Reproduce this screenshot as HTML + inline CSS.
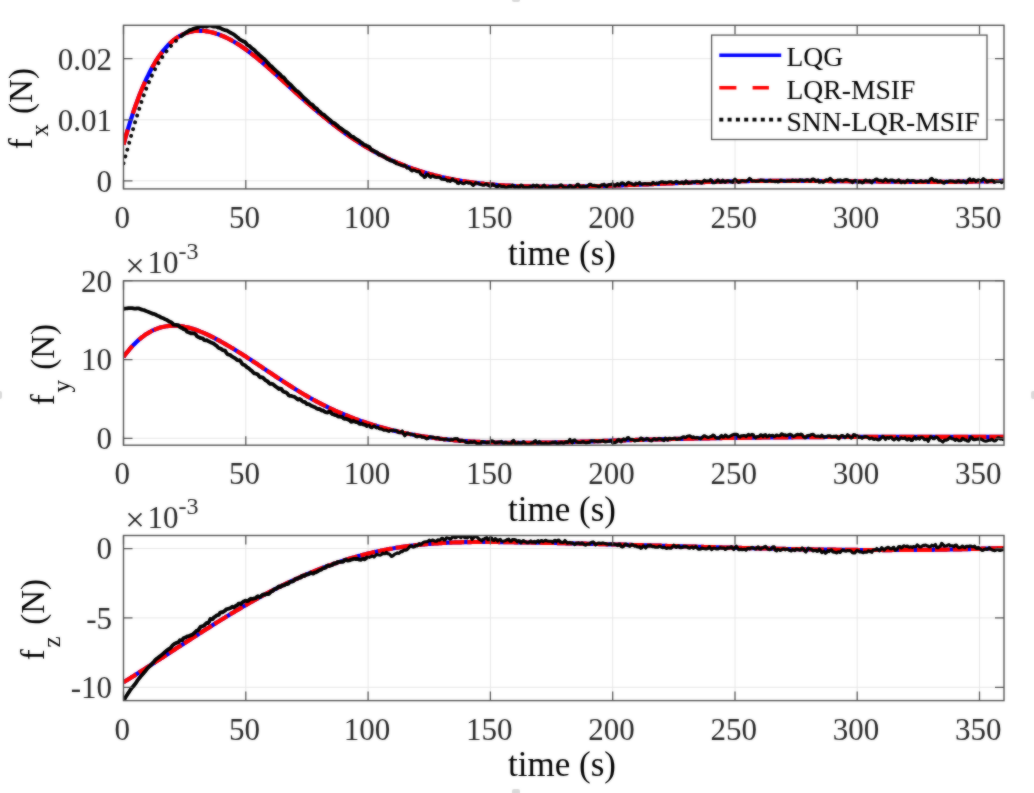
<!DOCTYPE html>
<html><head><meta charset="utf-8"><style>
html,body{margin:0;padding:0;background:#fff;width:1034px;height:793px;overflow:hidden}
svg{display:block}
</style></head><body>
<svg width="1034" height="793" viewBox="0 0 1034 793">
<defs><filter id="soft" x="0" y="0" width="100%" height="100%" color-interpolation-filters="sRGB"><feGaussianBlur in="SourceGraphic" stdDeviation="1" result="b"/><feComposite in="SourceGraphic" in2="b" operator="arithmetic" k1="0" k2="0.5" k3="0.5" k4="0"/></filter></defs>
<g filter="url(#soft)">
<rect width="1034" height="793" fill="#fff"/>
<clipPath id="c0"><rect x="123.5" y="25.3" width="880.5" height="163.6"/></clipPath>
<path d="M245.8,25.3V188.9M368.1,25.3V188.9M490.4,25.3V188.9M612.7,25.3V188.9M735.0,25.3V188.9M857.2,25.3V188.9M979.5,25.3V188.9M123.5,180.8H1004.0M123.5,119.8H1004.0M123.5,58.7H1004.0" stroke="#e6e6e6" stroke-width="1" fill="none"/>
<g clip-path="url(#c0)" fill="none" stroke-linejoin="round">
<path d="M123.5,144.7 L124.7,140.2 L125.9,135.9 L127.2,131.7 L128.4,127.6 L129.6,123.6 L130.8,119.7 L132.1,115.9 L133.3,112.2 L134.5,108.6 L135.7,105.2 L137.0,101.8 L138.2,98.5 L139.4,95.3 L140.6,92.2 L141.8,89.3 L143.1,86.4 L144.3,83.6 L145.5,80.8 L146.7,78.2 L148.0,75.7 L149.2,73.2 L150.4,70.8 L151.6,68.6 L152.8,66.4 L154.1,64.2 L155.3,62.2 L156.5,60.2 L157.7,58.3 L159.0,56.5 L160.2,54.8 L161.4,53.1 L162.6,51.5 L163.9,50.0 L165.1,48.5 L166.3,47.1 L167.5,45.8 L168.7,44.5 L170.0,43.3 L171.2,42.2 L172.4,41.1 L173.6,40.1 L174.9,39.2 L176.1,38.3 L177.3,37.4 L178.5,36.7 L179.8,35.9 L181.0,35.3 L182.2,34.6 L183.4,34.1 L184.6,33.6 L185.9,33.1 L187.1,32.7 L188.3,32.3 L189.5,32.0 L190.8,31.7 L192.0,31.4 L193.2,31.2 L194.4,31.0 L195.7,30.9 L196.9,30.8 L198.1,30.8 L199.3,30.8 L200.5,30.8 L201.8,30.8 L203.0,30.9 L204.2,31.0 L205.4,31.1 L206.7,31.3 L207.9,31.5 L209.1,31.7 L210.3,32.0 L211.6,32.3 L212.8,32.6 L214.0,32.9 L215.2,33.3 L216.4,33.7 L217.7,34.1 L218.9,34.5 L220.1,35.0 L221.3,35.5 L222.6,36.0 L223.8,36.5 L225.0,37.0 L226.2,37.6 L227.4,38.2 L228.7,38.8 L229.9,39.5 L231.1,40.1 L232.3,40.8 L233.6,41.5 L234.8,42.2 L236.0,43.0 L237.2,43.7 L238.5,44.5 L239.7,45.3 L240.9,46.1 L242.1,46.9 L243.3,47.8 L244.6,48.6 L245.8,49.5 L247.0,50.4 L248.2,51.3 L249.5,52.2 L250.7,53.1 L251.9,54.1 L253.1,55.0 L254.4,56.0 L255.6,57.0 L256.8,58.0 L258.0,59.0 L259.2,60.0 L260.5,61.0 L261.7,62.0 L262.9,63.1 L264.1,64.1 L265.4,65.2 L266.6,66.2 L267.8,67.3 L269.0,68.4 L270.2,69.4 L271.5,70.5 L272.7,71.6 L273.9,72.7 L275.1,73.8 L276.4,74.9 L277.6,76.0 L278.8,77.1 L280.0,78.2 L281.3,79.4 L282.5,80.5 L283.7,81.6 L284.9,82.7 L286.1,83.8 L287.4,85.0 L288.6,86.1 L289.8,87.2 L291.0,88.3 L292.3,89.4 L293.5,90.5 L294.7,91.7 L295.9,92.8 L297.2,93.9 L298.4,95.0 L299.6,96.1 L300.8,97.2 L302.0,98.2 L303.3,99.3 L304.5,100.4 L305.7,101.5 L306.9,102.6 L308.2,103.6 L309.4,104.7 L310.6,105.7 L311.8,106.8 L313.1,107.8 L314.3,108.9 L315.5,109.9 L316.7,110.9 L317.9,112.0 L319.2,113.0 L320.4,114.0 L321.6,115.0 L322.8,116.0 L324.1,117.0 L325.3,118.0 L326.5,119.0 L327.7,120.0 L328.9,121.0 L330.2,121.9 L331.4,122.9 L332.6,123.8 L333.8,124.8 L335.1,125.7 L336.3,126.7 L337.5,127.6 L338.7,128.5 L340.0,129.4 L341.2,130.3 L342.4,131.2 L343.6,132.1 L344.8,133.0 L346.1,133.9 L347.3,134.7 L348.5,135.6 L349.7,136.4 L351.0,137.3 L352.2,138.1 L353.4,138.9 L354.6,139.7 L355.9,140.5 L357.1,141.3 L358.3,142.1 L359.5,142.9 L360.7,143.7 L362.0,144.4 L363.2,145.2 L364.4,145.9 L365.6,146.7 L366.9,147.4 L368.1,148.1 L369.3,148.8 L370.5,149.5 L371.8,150.2 L373.0,150.9 L374.2,151.6 L375.4,152.2 L376.6,152.9 L377.9,153.5 L379.1,154.2 L380.3,154.8 L381.5,155.4 L382.8,156.0 L384.0,156.6 L385.2,157.2 L386.4,157.8 L387.6,158.4 L388.9,159.0 L390.1,159.6 L391.3,160.1 L392.5,160.7 L393.8,161.2 L395.0,161.7 L396.2,162.3 L397.4,162.8 L398.7,163.3 L399.9,163.8 L401.1,164.3 L402.3,164.8 L403.5,165.3 L404.8,165.8 L406.0,166.2 L407.2,166.7 L408.4,167.1 L409.7,167.6 L410.9,168.0 L412.1,168.5 L413.3,168.9 L414.6,169.3 L415.8,169.7 L417.0,170.1 L418.2,170.5 L419.4,170.9 L420.7,171.3 L421.9,171.7 L423.1,172.1 L424.3,172.4 L425.6,172.8 L426.8,173.2 L428.0,173.5 L429.2,173.9 L430.5,174.2 L431.7,174.5 L432.9,174.8 L434.1,175.2 L435.3,175.5 L436.6,175.8 L437.8,176.1 L439.0,176.4 L440.2,176.7 L441.5,177.0 L442.7,177.2 L443.9,177.5 L445.1,177.8 L446.4,178.1 L447.6,178.3 L448.8,178.6 L450.0,178.8 L451.2,179.1 L452.5,179.3 L453.7,179.5 L454.9,179.7 L456.1,180.0 L457.4,180.2 L458.6,180.4 L459.8,180.6 L461.0,180.8 L462.2,181.0 L463.5,181.2 L464.7,181.4 L465.9,181.6 L467.1,181.8 L468.4,181.9 L469.6,182.1 L470.8,182.3 L472.0,182.4 L473.3,182.6 L474.5,182.8 L475.7,182.9 L476.9,183.1 L478.1,183.2 L479.4,183.3 L480.6,183.5 L481.8,183.6 L483.0,183.7 L484.3,183.9 L485.5,184.0 L486.7,184.1 L487.9,184.2 L489.2,184.3 L490.4,184.4 L491.6,184.5 L492.8,184.6 L494.0,184.7 L495.3,184.8 L496.5,184.9 L497.7,185.0 L498.9,185.1 L500.2,185.2 L501.4,185.3 L502.6,185.3 L503.8,185.4 L505.1,185.5 L506.3,185.5 L507.5,185.6 L508.7,185.7 L509.9,185.7 L511.2,185.8 L512.4,185.9 L513.6,185.9 L514.8,186.0 L516.1,186.0 L517.3,186.1 L518.5,186.1 L519.7,186.1 L520.9,186.2 L522.2,186.2 L523.4,186.3 L524.6,186.3 L525.8,186.3 L527.1,186.4 L528.3,186.4 L529.5,186.4 L530.7,186.4 L532.0,186.5 L533.2,186.5 L534.4,186.5 L535.6,186.5 L536.8,186.5 L538.1,186.6 L539.3,186.6 L540.5,186.6 L541.7,186.6 L543.0,186.6 L544.2,186.6 L545.4,186.6 L546.6,186.7 L547.9,186.7 L549.1,186.7 L550.3,186.7 L551.5,186.7 L552.7,186.7 L554.0,186.7 L555.2,186.7 L556.4,186.7 L557.6,186.7 L558.9,186.7 L560.1,186.7 L561.3,186.7 L562.5,186.7 L563.8,186.7 L565.0,186.6 L566.2,186.6 L567.4,186.6 L568.6,186.6 L569.9,186.6 L571.1,186.6 L572.3,186.6 L573.5,186.6 L574.8,186.5 L576.0,186.5 L577.2,186.5 L578.4,186.5 L579.6,186.5 L580.9,186.4 L582.1,186.4 L583.3,186.4 L584.5,186.4 L585.8,186.3 L587.0,186.3 L588.2,186.3 L589.4,186.3 L590.7,186.2 L591.9,186.2 L593.1,186.2 L594.3,186.1 L595.5,186.1 L596.8,186.1 L598.0,186.0 L599.2,186.0 L600.4,186.0 L601.7,185.9 L602.9,185.9 L604.1,185.9 L605.3,185.8 L606.6,185.8 L607.8,185.8 L609.0,185.7 L610.2,185.7 L611.4,185.6 L612.7,185.6 L613.9,185.6 L615.1,185.5 L616.3,185.5 L617.6,185.4 L618.8,185.4 L620.0,185.4 L621.2,185.3 L622.5,185.3 L623.7,185.2 L624.9,185.2 L626.1,185.1 L627.3,185.1 L628.6,185.0 L629.8,185.0 L631.0,185.0 L632.2,184.9 L633.5,184.9 L634.7,184.8 L635.9,184.8 L637.1,184.7 L638.3,184.7 L639.6,184.6 L640.8,184.6 L642.0,184.5 L643.2,184.5 L644.5,184.4 L645.7,184.4 L646.9,184.3 L648.1,184.3 L649.4,184.2 L650.6,184.2 L651.8,184.1 L653.0,184.1 L654.2,184.0 L655.5,184.0 L656.7,183.9 L657.9,183.9 L659.1,183.8 L660.4,183.8 L661.6,183.7 L662.8,183.7 L664.0,183.6 L665.3,183.6 L666.5,183.5 L667.7,183.5 L668.9,183.4 L670.1,183.4 L671.4,183.3 L672.6,183.3 L673.8,183.2 L675.0,183.2 L676.3,183.1 L677.5,183.1 L678.7,183.0 L679.9,183.0 L681.1,182.9 L682.4,182.9 L683.6,182.8 L684.8,182.8 L686.0,182.7 L687.3,182.7 L688.5,182.7 L689.7,182.6 L690.9,182.6 L692.2,182.5 L693.4,182.5 L694.6,182.4 L695.8,182.4 L697.0,182.3 L698.3,182.3 L699.5,182.3 L700.7,182.2 L701.9,182.2 L703.2,182.1 L704.4,182.1 L705.6,182.0 L706.8,182.0 L708.1,182.0 L709.3,181.9 L710.5,181.9 L711.7,181.9 L712.9,181.8 L714.2,181.8 L715.4,181.7 L716.6,181.7 L717.8,181.7 L719.1,181.6 L720.3,181.6 L721.5,181.6 L722.7,181.5 L724.0,181.5 L725.2,181.5 L726.4,181.5 L727.6,181.4 L728.8,181.4 L730.1,181.4 L731.3,181.3 L732.5,181.3 L733.7,181.3 L735.0,181.3 L736.2,181.2 L737.4,181.2 L738.6,181.2 L739.9,181.2 L741.1,181.2 L742.3,181.1 L743.5,181.1 L744.7,181.1 L746.0,181.1 L747.2,181.1 L748.4,181.1 L749.6,181.0 L750.9,181.0 L752.1,181.0 L753.3,181.0 L754.5,181.0 L755.7,181.0 L757.0,181.0 L758.2,180.9 L759.4,180.9 L760.6,180.9 L761.9,180.9 L763.1,180.9 L764.3,180.9 L765.5,180.9 L766.8,180.9 L768.0,180.9 L769.2,180.9 L770.4,180.9 L771.6,180.9 L772.9,180.8 L774.1,180.8 L775.3,180.8 L776.5,180.8 L777.8,180.8 L779.0,180.8 L780.2,180.8 L781.4,180.8 L782.7,180.8 L783.9,180.8 L785.1,180.8 L786.3,180.8 L787.5,180.8 L788.8,180.8 L790.0,180.8 L791.2,180.8 L792.4,180.8 L793.7,180.8 L794.9,180.8 L796.1,180.8 L797.3,180.8 L798.5,180.9 L799.8,180.9 L801.0,180.9 L802.2,180.9 L803.4,180.9 L804.7,180.9 L805.9,180.9 L807.1,180.9 L808.3,180.9 L809.6,180.9 L810.8,180.9 L812.0,180.9 L813.2,180.9 L814.4,180.9 L815.7,180.9 L816.9,181.0 L818.1,181.0 L819.3,181.0 L820.6,181.0 L821.8,181.0 L823.0,181.0 L824.2,181.0 L825.5,181.0 L826.7,181.0 L827.9,181.0 L829.1,181.1 L830.3,181.1 L831.6,181.1 L832.8,181.1 L834.0,181.1 L835.2,181.1 L836.5,181.1 L837.7,181.1 L838.9,181.1 L840.1,181.2 L841.4,181.2 L842.6,181.2 L843.8,181.2 L845.0,181.2 L846.2,181.2 L847.5,181.2 L848.7,181.2 L849.9,181.3 L851.1,181.3 L852.4,181.3 L853.6,181.3 L854.8,181.3 L856.0,181.3 L857.2,181.3 L858.5,181.3 L859.7,181.4 L860.9,181.4 L862.1,181.4 L863.4,181.4 L864.6,181.4 L865.8,181.4 L867.0,181.4 L868.3,181.5 L869.5,181.5 L870.7,181.5 L871.9,181.5 L873.1,181.5 L874.4,181.5 L875.6,181.5 L876.8,181.5 L878.0,181.5 L879.3,181.6 L880.5,181.6 L881.7,181.6 L882.9,181.6 L884.2,181.6 L885.4,181.6 L886.6,181.6 L887.8,181.6 L889.0,181.7 L890.3,181.7 L891.5,181.7 L892.7,181.7 L893.9,181.7 L895.2,181.7 L896.4,181.7 L897.6,181.7 L898.8,181.7 L900.1,181.7 L901.3,181.7 L902.5,181.8 L903.7,181.8 L904.9,181.8 L906.2,181.8 L907.4,181.8 L908.6,181.8 L909.8,181.8 L911.1,181.8 L912.3,181.8 L913.5,181.8 L914.7,181.8 L916.0,181.8 L917.2,181.8 L918.4,181.8 L919.6,181.8 L920.8,181.8 L922.1,181.8 L923.3,181.8 L924.5,181.8 L925.7,181.9 L927.0,181.9 L928.2,181.9 L929.4,181.9 L930.6,181.9 L931.8,181.9 L933.1,181.9 L934.3,181.9 L935.5,181.9 L936.7,181.8 L938.0,181.8 L939.2,181.8 L940.4,181.8 L941.6,181.8 L942.9,181.8 L944.1,181.8 L945.3,181.8 L946.5,181.8 L947.7,181.8 L949.0,181.8 L950.2,181.8 L951.4,181.8 L952.6,181.8 L953.9,181.8 L955.1,181.8 L956.3,181.7 L957.5,181.7 L958.8,181.7 L960.0,181.7 L961.2,181.7 L962.4,181.7 L963.6,181.7 L964.9,181.7 L966.1,181.6 L967.3,181.6 L968.5,181.6 L969.8,181.6 L971.0,181.6 L972.2,181.6 L973.4,181.5 L974.6,181.5 L975.9,181.5 L977.1,181.5 L978.3,181.4 L979.5,181.4 L980.8,181.4 L982.0,181.4 L983.2,181.4 L984.4,181.3 L985.7,181.3 L986.9,181.3 L988.1,181.2 L989.3,181.2 L990.5,181.2 L991.8,181.2 L993.0,181.1 L994.2,181.1 L995.4,181.1 L996.7,181.0 L997.9,181.0 L999.1,181.0 L1000.3,180.9 L1001.6,180.9 L1002.8,180.8 L1004.0,180.8" stroke="#0000ff" stroke-width="4.2"/>
<path d="M123.5,144.7 L124.7,140.2 L125.9,135.9 L127.2,131.7 L128.4,127.6 L129.6,123.6 L130.8,119.7 L132.1,115.9 L133.3,112.2 L134.5,108.6 L135.7,105.2 L137.0,101.8 L138.2,98.5 L139.4,95.3 L140.6,92.2 L141.8,89.3 L143.1,86.4 L144.3,83.6 L145.5,80.8 L146.7,78.2 L148.0,75.7 L149.2,73.2 L150.4,70.8 L151.6,68.6 L152.8,66.4 L154.1,64.2 L155.3,62.2 L156.5,60.2 L157.7,58.3 L159.0,56.5 L160.2,54.8 L161.4,53.1 L162.6,51.5 L163.9,50.0 L165.1,48.5 L166.3,47.1 L167.5,45.8 L168.7,44.5 L170.0,43.3 L171.2,42.2 L172.4,41.1 L173.6,40.1 L174.9,39.2 L176.1,38.3 L177.3,37.4 L178.5,36.7 L179.8,35.9 L181.0,35.3 L182.2,34.6 L183.4,34.1 L184.6,33.6" stroke="#ff0000" stroke-width="4.2" stroke-dasharray="15.69 16.67 34.42 15.42 18.95 10.69 11.81 2.41 5.32 0.00"/>
<path d="M184.6,33.6 L185.9,33.1 L187.1,32.7 L188.3,32.3 L189.5,32.0 L190.8,31.7 L192.0,31.4 L193.2,31.2 L194.4,31.0 L195.7,30.9 L196.9,30.8 L198.1,30.8 L199.3,30.8 L200.5,30.8 L201.8,30.8 L203.0,30.9 L204.2,31.0 L205.4,31.1 L206.7,31.3 L207.9,31.5 L209.1,31.7 L210.3,32.0 L211.6,32.3 L212.8,32.6 L214.0,32.9 L215.2,33.3 L216.4,33.7 L217.7,34.1 L218.9,34.5 L220.1,35.0 L221.3,35.5 L222.6,36.0 L223.8,36.5 L225.0,37.0 L226.2,37.6 L227.4,38.2 L228.7,38.8 L229.9,39.5 L231.1,40.1 L232.3,40.8 L233.6,41.5 L234.8,42.2 L236.0,43.0 L237.2,43.7 L238.5,44.5 L239.7,45.3 L240.9,46.1 L242.1,46.9 L243.3,47.8 L244.6,48.6 L245.8,49.5 L247.0,50.4 L248.2,51.3 L249.5,52.2 L250.7,53.1 L251.9,54.1 L253.1,55.0 L254.4,56.0 L255.6,57.0 L256.8,58.0 L258.0,59.0 L259.2,60.0 L260.5,61.0 L261.7,62.0 L262.9,63.1 L264.1,64.1 L265.4,65.2 L266.6,66.2 L267.8,67.3 L269.0,68.4 L270.2,69.4 L271.5,70.5 L272.7,71.6 L273.9,72.7 L275.1,73.8 L276.4,74.9 L277.6,76.0 L278.8,77.1 L280.0,78.2 L281.3,79.4 L282.5,80.5 L283.7,81.6 L284.9,82.7 L286.1,83.8 L287.4,85.0 L288.6,86.1 L289.8,87.2 L291.0,88.3 L292.3,89.4 L293.5,90.5 L294.7,91.7 L295.9,92.8 L297.2,93.9 L298.4,95.0 L299.6,96.1 L300.8,97.2 L302.0,98.2 L303.3,99.3 L304.5,100.4 L305.7,101.5 L306.9,102.6 L308.2,103.6 L309.4,104.7 L310.6,105.7 L311.8,106.8 L313.1,107.8 L314.3,108.9 L315.5,109.9 L316.7,110.9 L317.9,112.0 L319.2,113.0 L320.4,114.0 L321.6,115.0 L322.8,116.0 L324.1,117.0 L325.3,118.0 L326.5,119.0 L327.7,120.0 L328.9,121.0 L330.2,121.9 L331.4,122.9 L332.6,123.8 L333.8,124.8 L335.1,125.7 L336.3,126.7 L337.5,127.6 L338.7,128.5 L340.0,129.4 L341.2,130.3 L342.4,131.2 L343.6,132.1 L344.8,133.0 L346.1,133.9 L347.3,134.7 L348.5,135.6 L349.7,136.4 L351.0,137.3 L352.2,138.1 L353.4,138.9 L354.6,139.7 L355.9,140.5 L357.1,141.3 L358.3,142.1 L359.5,142.9 L360.7,143.7 L362.0,144.4 L363.2,145.2 L364.4,145.9 L365.6,146.7 L366.9,147.4 L368.1,148.1 L369.3,148.8 L370.5,149.5 L371.8,150.2 L373.0,150.9 L374.2,151.6 L375.4,152.2 L376.6,152.9 L377.9,153.5 L379.1,154.2 L380.3,154.8 L381.5,155.4 L382.8,156.0 L384.0,156.6 L385.2,157.2 L386.4,157.8 L387.6,158.4 L388.9,159.0 L390.1,159.6 L391.3,160.1 L392.5,160.7 L393.8,161.2 L395.0,161.7 L396.2,162.3 L397.4,162.8 L398.7,163.3 L399.9,163.8 L401.1,164.3 L402.3,164.8 L403.5,165.3 L404.8,165.8 L406.0,166.2 L407.2,166.7 L408.4,167.1 L409.7,167.6 L410.9,168.0 L412.1,168.5 L413.3,168.9 L414.6,169.3 L415.8,169.7 L417.0,170.1 L418.2,170.5 L419.4,170.9 L420.7,171.3 L421.9,171.7 L423.1,172.1 L424.3,172.4 L425.6,172.8 L426.8,173.2 L428.0,173.5 L429.2,173.9 L430.5,174.2 L431.7,174.5 L432.9,174.8 L434.1,175.2 L435.3,175.5 L436.6,175.8 L437.8,176.1 L439.0,176.4 L440.2,176.7 L441.5,177.0 L442.7,177.2 L443.9,177.5 L445.1,177.8 L446.4,178.1 L447.6,178.3 L448.8,178.6 L450.0,178.8 L451.2,179.1 L452.5,179.3 L453.7,179.5 L454.9,179.7 L456.1,180.0 L457.4,180.2 L458.6,180.4 L459.8,180.6 L461.0,180.8 L462.2,181.0 L463.5,181.2 L464.7,181.4 L465.9,181.6 L467.1,181.8 L468.4,181.9 L469.6,182.1 L470.8,182.3 L472.0,182.4 L473.3,182.6 L474.5,182.8 L475.7,182.9 L476.9,183.1 L478.1,183.2 L479.4,183.3 L480.6,183.5 L481.8,183.6 L483.0,183.7 L484.3,183.9 L485.5,184.0 L486.7,184.1 L487.9,184.2 L489.2,184.3 L490.4,184.4 L491.6,184.5 L492.8,184.6 L494.0,184.7 L495.3,184.8 L496.5,184.9 L497.7,185.0 L498.9,185.1 L500.2,185.2 L501.4,185.3 L502.6,185.3 L503.8,185.4 L505.1,185.5 L506.3,185.5 L507.5,185.6 L508.7,185.7 L509.9,185.7 L511.2,185.8 L512.4,185.9 L513.6,185.9 L514.8,186.0 L516.1,186.0 L517.3,186.1 L518.5,186.1 L519.7,186.1 L520.9,186.2 L522.2,186.2 L523.4,186.3 L524.6,186.3 L525.8,186.3 L527.1,186.4 L528.3,186.4 L529.5,186.4 L530.7,186.4 L532.0,186.5 L533.2,186.5 L534.4,186.5 L535.6,186.5 L536.8,186.5 L538.1,186.6 L539.3,186.6 L540.5,186.6 L541.7,186.6 L543.0,186.6 L544.2,186.6 L545.4,186.6 L546.6,186.7 L547.9,186.7 L549.1,186.7 L550.3,186.7 L551.5,186.7 L552.7,186.7 L554.0,186.7 L555.2,186.7 L556.4,186.7 L557.6,186.7 L558.9,186.7 L560.1,186.7 L561.3,186.7 L562.5,186.7 L563.8,186.7 L565.0,186.6 L566.2,186.6 L567.4,186.6 L568.6,186.6 L569.9,186.6 L571.1,186.6 L572.3,186.6 L573.5,186.6 L574.8,186.5 L576.0,186.5 L577.2,186.5 L578.4,186.5 L579.6,186.5 L580.9,186.4 L582.1,186.4 L583.3,186.4 L584.5,186.4 L585.8,186.3 L587.0,186.3 L588.2,186.3 L589.4,186.3 L590.7,186.2 L591.9,186.2 L593.1,186.2 L594.3,186.1 L595.5,186.1 L596.8,186.1 L598.0,186.0 L599.2,186.0 L600.4,186.0 L601.7,185.9 L602.9,185.9 L604.1,185.9 L605.3,185.8 L606.6,185.8 L607.8,185.8 L609.0,185.7 L610.2,185.7 L611.4,185.6 L612.7,185.6 L613.9,185.6 L615.1,185.5 L616.3,185.5 L617.6,185.4 L618.8,185.4 L620.0,185.4 L621.2,185.3 L622.5,185.3 L623.7,185.2 L624.9,185.2 L626.1,185.1 L627.3,185.1 L628.6,185.0 L629.8,185.0 L631.0,185.0 L632.2,184.9 L633.5,184.9 L634.7,184.8 L635.9,184.8 L637.1,184.7 L638.3,184.7 L639.6,184.6 L640.8,184.6 L642.0,184.5 L643.2,184.5 L644.5,184.4 L645.7,184.4 L646.9,184.3 L648.1,184.3 L649.4,184.2 L650.6,184.2 L651.8,184.1 L653.0,184.1 L654.2,184.0 L655.5,184.0 L656.7,183.9 L657.9,183.9 L659.1,183.8 L660.4,183.8 L661.6,183.7 L662.8,183.7 L664.0,183.6 L665.3,183.6 L666.5,183.5 L667.7,183.5 L668.9,183.4 L670.1,183.4 L671.4,183.3 L672.6,183.3 L673.8,183.2 L675.0,183.2 L676.3,183.1 L677.5,183.1 L678.7,183.0 L679.9,183.0 L681.1,182.9 L682.4,182.9 L683.6,182.8 L684.8,182.8 L686.0,182.7 L687.3,182.7 L688.5,182.7 L689.7,182.6 L690.9,182.6 L692.2,182.5 L693.4,182.5 L694.6,182.4 L695.8,182.4 L697.0,182.3 L698.3,182.3 L699.5,182.3 L700.7,182.2 L701.9,182.2 L703.2,182.1 L704.4,182.1 L705.6,182.0 L706.8,182.0 L708.1,182.0 L709.3,181.9 L710.5,181.9 L711.7,181.9 L712.9,181.8 L714.2,181.8 L715.4,181.7 L716.6,181.7 L717.8,181.7 L719.1,181.6 L720.3,181.6 L721.5,181.6 L722.7,181.5 L724.0,181.5 L725.2,181.5 L726.4,181.5 L727.6,181.4 L728.8,181.4 L730.1,181.4 L731.3,181.3 L732.5,181.3 L733.7,181.3 L735.0,181.3 L736.2,181.2 L737.4,181.2 L738.6,181.2 L739.9,181.2 L741.1,181.2 L742.3,181.1 L743.5,181.1 L744.7,181.1 L746.0,181.1 L747.2,181.1 L748.4,181.1 L749.6,181.0 L750.9,181.0 L752.1,181.0 L753.3,181.0 L754.5,181.0 L755.7,181.0 L757.0,181.0 L758.2,180.9 L759.4,180.9 L760.6,180.9 L761.9,180.9 L763.1,180.9 L764.3,180.9 L765.5,180.9 L766.8,180.9 L768.0,180.9 L769.2,180.9 L770.4,180.9 L771.6,180.9 L772.9,180.8 L774.1,180.8 L775.3,180.8 L776.5,180.8 L777.8,180.8 L779.0,180.8 L780.2,180.8 L781.4,180.8 L782.7,180.8 L783.9,180.8 L785.1,180.8 L786.3,180.8 L787.5,180.8 L788.8,180.8 L790.0,180.8 L791.2,180.8 L792.4,180.8 L793.7,180.8 L794.9,180.8 L796.1,180.8 L797.3,180.8 L798.5,180.9 L799.8,180.9 L801.0,180.9 L802.2,180.9 L803.4,180.9 L804.7,180.9 L805.9,180.9 L807.1,180.9 L808.3,180.9 L809.6,180.9 L810.8,180.9 L812.0,180.9 L813.2,180.9 L814.4,180.9 L815.7,180.9 L816.9,181.0 L818.1,181.0 L819.3,181.0 L820.6,181.0 L821.8,181.0 L823.0,181.0 L824.2,181.0 L825.5,181.0 L826.7,181.0 L827.9,181.0 L829.1,181.1 L830.3,181.1 L831.6,181.1 L832.8,181.1 L834.0,181.1 L835.2,181.1 L836.5,181.1 L837.7,181.1 L838.9,181.1 L840.1,181.2 L841.4,181.2 L842.6,181.2 L843.8,181.2 L845.0,181.2 L846.2,181.2 L847.5,181.2 L848.7,181.2 L849.9,181.3 L851.1,181.3 L852.4,181.3 L853.6,181.3 L854.8,181.3 L856.0,181.3 L857.2,181.3 L858.5,181.3 L859.7,181.4 L860.9,181.4 L862.1,181.4 L863.4,181.4 L864.6,181.4 L865.8,181.4 L867.0,181.4 L868.3,181.5 L869.5,181.5 L870.7,181.5 L871.9,181.5 L873.1,181.5 L874.4,181.5 L875.6,181.5 L876.8,181.5 L878.0,181.5 L879.3,181.6 L880.5,181.6 L881.7,181.6 L882.9,181.6 L884.2,181.6 L885.4,181.6 L886.6,181.6 L887.8,181.6 L889.0,181.7 L890.3,181.7 L891.5,181.7 L892.7,181.7 L893.9,181.7 L895.2,181.7 L896.4,181.7 L897.6,181.7 L898.8,181.7 L900.1,181.7 L901.3,181.7 L902.5,181.8 L903.7,181.8 L904.9,181.8 L906.2,181.8 L907.4,181.8 L908.6,181.8 L909.8,181.8 L911.1,181.8 L912.3,181.8 L913.5,181.8 L914.7,181.8 L916.0,181.8 L917.2,181.8 L918.4,181.8 L919.6,181.8 L920.8,181.8 L922.1,181.8 L923.3,181.8 L924.5,181.8 L925.7,181.9 L927.0,181.9 L928.2,181.9 L929.4,181.9 L930.6,181.9 L931.8,181.9 L933.1,181.9 L934.3,181.9 L935.5,181.9 L936.7,181.8 L938.0,181.8 L939.2,181.8 L940.4,181.8 L941.6,181.8 L942.9,181.8 L944.1,181.8 L945.3,181.8 L946.5,181.8 L947.7,181.8 L949.0,181.8 L950.2,181.8 L951.4,181.8 L952.6,181.8 L953.9,181.8 L955.1,181.8 L956.3,181.7 L957.5,181.7 L958.8,181.7 L960.0,181.7 L961.2,181.7 L962.4,181.7 L963.6,181.7 L964.9,181.7 L966.1,181.6 L967.3,181.6 L968.5,181.6 L969.8,181.6 L971.0,181.6 L972.2,181.6 L973.4,181.5 L974.6,181.5 L975.9,181.5 L977.1,181.5 L978.3,181.4 L979.5,181.4 L980.8,181.4 L982.0,181.4 L983.2,181.4 L984.4,181.3 L985.7,181.3 L986.9,181.3 L988.1,181.2 L989.3,181.2 L990.5,181.2 L991.8,181.2 L993.0,181.1 L994.2,181.1 L995.4,181.1 L996.7,181.0 L997.9,181.0 L999.1,181.0 L1000.3,180.9 L1001.6,180.9 L1002.8,180.8 L1004.0,180.8" stroke="#ff0000" stroke-width="4.2" stroke-dasharray="15 3"/>
<path d="M123.5,163.4 L124.7,159.0 L125.9,154.6 L127.2,150.2 L128.4,145.8 L129.6,141.4 L130.8,137.0 L132.1,132.7 L133.3,128.5 L134.5,124.3 L135.7,120.2 L137.0,116.1 L138.2,112.1 L139.4,108.3 L140.6,104.5 L141.8,100.9 L143.1,97.3 L144.3,93.9 L145.5,90.6 L146.7,87.5 L148.0,84.5 L149.2,81.6 L150.4,78.8 L151.6,76.2 L152.8,73.6 L154.1,71.2 L155.3,68.8 L156.5,66.6 L157.7,64.4 L159.0,62.3 L160.2,60.4 L161.4,58.5 L162.6,56.6 L163.9,54.9 L165.1,53.2 L166.3,51.6 L167.5,50.1 L168.7,48.6 L170.0,47.1 L171.2,45.7 L172.4,44.4 L173.6,43.1 L174.9,41.9 L176.1,40.7 L177.3,39.5 L178.5,38.4 L179.8,37.4 L181.0,36.4 L182.2,35.7" stroke="#000" stroke-width="3.8" stroke-dasharray="0.1 7.0" stroke-linecap="round"/>
<path d="M182.2,35.7 L183.4,34.3 L184.6,33.5 L185.9,32.7 L187.1,31.9 L188.3,31.2 L189.5,30.1 L190.8,29.8 L192.0,29.5 L193.2,28.9 L194.4,28.5 L195.7,28.2 L196.9,28.0 L198.1,27.4 L199.3,26.6 L200.5,26.0 L201.8,26.4 L203.0,26.7 L204.2,26.0 L205.4,26.3 L206.7,26.5 L207.9,26.0 L209.1,25.6 L210.3,25.4 L211.6,26.0 L212.8,26.4 L214.0,26.6 L215.2,26.4 L216.4,26.7 L217.7,27.5 L218.9,27.6 L220.1,28.0 L221.3,28.6 L222.6,29.3 L223.8,29.7 L225.0,30.1 L226.2,30.4 L227.4,30.7 L228.7,31.6 L229.9,32.3 L231.1,33.0 L232.3,33.6 L233.6,34.3 L234.8,35.2 L236.0,36.3 L237.2,37.2 L238.5,38.1 L239.7,39.6 L240.9,40.1 L242.1,40.7 L243.3,41.5 L244.6,41.6 L245.8,42.8 L247.0,44.6 L248.2,45.3 L249.5,46.0 L250.7,47.1 L251.9,48.3 L253.1,49.1 L254.4,50.0 L255.6,51.5 L256.8,52.7 L258.0,53.6 L259.2,54.9 L260.5,56.0 L261.7,57.0 L262.9,58.0 L264.1,58.8 L265.4,60.2 L266.6,61.6 L267.8,62.8 L269.0,64.3 L270.2,65.8 L271.5,66.3 L272.7,67.8 L273.9,68.8 L275.1,69.9 L276.4,71.1 L277.6,72.1 L278.8,73.3 L280.0,74.2 L281.3,76.0 L282.5,77.0 L283.7,77.4 L284.9,78.9 L286.1,80.6 L287.4,81.8 L288.6,83.2 L289.8,84.0 L291.0,85.1 L292.3,86.6 L293.5,87.8 L294.7,89.2 L295.9,90.4 L297.2,91.1 L298.4,92.0 L299.6,93.2 L300.8,94.3 L302.0,95.9 L303.3,97.1 L304.5,98.2 L305.7,99.2 L306.9,100.3 L308.2,101.5 L309.4,102.8 L310.6,104.0 L311.8,104.3 L313.1,105.4 L314.3,107.1 L315.5,107.9 L316.7,108.4 L317.9,109.9 L319.2,111.4 L320.4,112.2 L321.6,113.6 L322.8,114.3 L324.1,114.8 L325.3,116.0 L326.5,117.2 L327.7,118.1 L328.9,119.1 L330.2,120.2 L331.4,121.3 L332.6,122.6 L333.8,122.9 L335.1,123.7 L336.3,124.9 L337.5,125.7 L338.7,126.9 L340.0,127.9 L341.2,128.5 L342.4,129.4 L343.6,130.5 L344.8,131.3 L346.1,131.9 L347.3,132.6 L348.5,133.7 L349.7,134.9 L351.0,136.2 L352.2,136.7 L353.4,136.9 L354.6,138.1 L355.9,139.0 L357.1,139.6 L358.3,140.4 L359.5,141.2 L360.7,142.3 L362.0,142.9 L363.2,144.0 L364.4,144.9 L365.6,145.2 L366.9,146.0 L368.1,146.4 L369.3,147.0 L370.5,148.6 L371.8,150.2 L373.0,150.4 L374.2,150.9 L375.4,151.9 L376.6,152.1 L377.9,153.3 L379.1,154.7 L380.3,154.9 L381.5,155.1 L382.8,155.9 L384.0,156.5 L385.2,157.4 L386.4,158.4 L387.6,158.9 L388.9,159.4 L390.1,160.4 L391.3,160.7 L392.5,160.9 L393.8,161.5 L395.0,162.3 L396.2,163.2 L397.4,163.8" stroke="#000" stroke-width="3.8"/>
<path d="M397.4,163.8 L398.7,164.4 L399.9,164.7 L401.1,165.2 L402.3,165.7 L403.5,166.0 L404.8,165.1 L406.0,166.8 L407.2,168.1 L408.4,167.7 L409.7,168.8 L410.9,170.2 L412.1,171.0 L413.3,170.0 L414.6,170.2 L415.8,171.1 L417.0,171.7 L418.2,171.4 L419.4,171.6 L420.7,174.3 L421.9,175.2 L423.1,175.4 L424.3,177.5 L425.6,176.9 L426.8,174.2 L428.0,174.2 L429.2,176.3 L430.5,177.3 L431.7,176.1 L432.9,175.7 L434.1,176.7 L435.3,177.2 L436.6,177.5 L437.8,177.2 L439.0,177.2 L440.2,177.9 L441.5,179.2 L442.7,179.3 L443.9,179.4 L445.1,179.2 L446.4,179.9 L447.6,181.0 L448.8,180.4 L450.0,181.4 L451.2,180.5 L452.5,178.8 L453.7,180.5 L454.9,181.2 L456.1,180.9 L457.4,183.3 L458.6,183.6 L459.8,182.1 L461.0,182.4 L462.2,183.3 L463.5,183.7 L464.7,183.3 L465.9,182.4 L467.1,182.3 L468.4,183.2 L469.6,182.6 L470.8,183.1 L472.0,184.5 L473.3,185.5 L474.5,184.3 L475.7,182.6 L476.9,183.1 L478.1,183.5 L479.4,184.1 L480.6,184.5 L481.8,184.9 L483.0,185.3 L484.3,185.2 L485.5,184.1 L486.7,183.9 L487.9,185.0 L489.2,185.9 L490.4,186.3 L491.6,184.9 L492.8,184.2 L494.0,185.3 L495.3,186.0 L496.5,186.8 L497.7,186.7 L498.9,185.4 L500.2,185.7 L501.4,186.5 L502.6,186.5 L503.8,186.3 L505.1,187.2 L506.3,187.5 L507.5,187.1 L508.7,186.4 L509.9,186.3 L511.2,186.6 L512.4,185.1 L513.6,185.7 L514.8,187.2 L516.1,186.9 L517.3,186.5 L518.5,187.3 L519.7,187.0 L520.9,185.0 L522.2,185.5 L523.4,187.0 L524.6,187.6 L525.8,187.2 L527.1,187.4 L528.3,188.4 L529.5,186.7 L530.7,186.5 L532.0,186.7 L533.2,185.1 L534.4,185.6 L535.6,186.3 L536.8,185.1 L538.1,185.6 L539.3,187.3 L540.5,188.1 L541.7,187.7 L543.0,185.8 L544.2,185.1 L545.4,186.8 L546.6,188.0 L547.9,187.7 L549.1,186.9 L550.3,186.7 L551.5,186.7 L552.7,186.3 L554.0,186.7 L555.2,186.9 L556.4,186.5 L557.6,186.5 L558.9,186.3 L560.1,185.0 L561.3,184.9 L562.5,186.1 L563.8,187.6 L565.0,187.3 L566.2,187.5 L567.4,188.6 L568.6,186.7 L569.9,185.3 L571.1,185.9 L572.3,187.5 L573.5,187.6 L574.8,186.9 L576.0,186.2 L577.2,184.2 L578.4,184.4 L579.6,186.4 L580.9,187.3 L582.1,186.8 L583.3,186.0 L584.5,186.7 L585.8,186.5 L587.0,186.4 L588.2,185.7 L589.4,184.2 L590.7,184.2 L591.9,185.2 L593.1,185.5 L594.3,185.2 L595.5,185.8 L596.8,185.9 L598.0,186.4 L599.2,187.1 L600.4,185.7 L601.7,184.8 L602.9,185.1 L604.1,184.2 L605.3,185.5 L606.6,186.6 L607.8,185.3 L609.0,184.5 L610.2,184.8 L611.4,184.3 L612.7,183.9 L613.9,185.3 L615.1,186.0 L616.3,184.6 L617.6,183.6 L618.8,185.4 L620.0,184.7 L621.2,183.0 L622.5,182.9 L623.7,183.5 L624.9,184.6 L626.1,185.0 L627.3,183.1 L628.6,182.4 L629.8,182.9 L631.0,183.2 L632.2,184.1 L633.5,184.7 L634.7,185.0 L635.9,183.2 L637.1,183.7 L638.3,183.6 L639.6,182.5 L640.8,183.9 L642.0,184.4 L643.2,183.9 L644.5,183.6 L645.7,183.6 L646.9,184.0 L648.1,183.8 L649.4,183.9 L650.6,184.5 L651.8,183.8 L653.0,182.3 L654.2,183.2 L655.5,183.8 L656.7,183.1 L657.9,183.7 L659.1,182.7 L660.4,182.3 L661.6,181.8 L662.8,181.9 L664.0,182.6 L665.3,182.2 L666.5,182.9 L667.7,182.4 L668.9,181.9 L670.1,181.8 L671.4,181.7 L672.6,182.8 L673.8,182.8 L675.0,182.0 L676.3,181.3 L677.5,181.9 L678.7,182.5 L679.9,183.0 L681.1,182.5 L682.4,182.0 L683.6,183.6 L684.8,182.9 L686.0,180.9 L687.3,181.9 L688.5,183.3 L689.7,182.7 L690.9,182.7 L692.2,181.9 L693.4,181.7 L694.6,182.4 L695.8,181.4 L697.0,181.4 L698.3,181.5 L699.5,181.6 L700.7,182.7 L701.9,183.2 L703.2,181.2 L704.4,180.1 L705.6,181.2 L706.8,180.9 L708.1,181.0 L709.3,180.9 L710.5,179.7 L711.7,180.4 L712.9,182.7 L714.2,182.7 L715.4,182.5 L716.6,181.3 L717.8,179.8 L719.1,180.9 L720.3,182.4 L721.5,182.0 L722.7,180.1 L724.0,181.7 L725.2,182.3 L726.4,181.1 L727.6,180.7 L728.8,180.7 L730.1,181.6 L731.3,181.9 L732.5,182.3 L733.7,180.4 L735.0,179.1 L736.2,180.3 L737.4,181.5 L738.6,182.4 L739.9,182.1 L741.1,180.8 L742.3,180.6 L743.5,180.7 L744.7,181.3 L746.0,181.3 L747.2,180.6 L748.4,179.7 L749.6,178.4 L750.9,179.3 L752.1,181.1 L753.3,181.0 L754.5,180.9 L755.7,181.4 L757.0,181.0 L758.2,181.2 L759.4,180.7 L760.6,180.1 L761.9,180.3 L763.1,180.4 L764.3,181.0 L765.5,181.5 L766.8,181.2 L768.0,180.9 L769.2,180.6 L770.4,180.2 L771.6,181.3 L772.9,181.3 L774.1,181.2 L775.3,181.7 L776.5,181.0 L777.8,182.0 L779.0,181.7 L780.2,180.2 L781.4,180.4 L782.7,180.8 L783.9,180.9 L785.1,181.3 L786.3,181.2 L787.5,180.9 L788.8,180.7 L790.0,181.1 L791.2,181.0 L792.4,180.1 L793.7,180.4 L794.9,180.8 L796.1,180.3 L797.3,181.1 L798.5,181.2 L799.8,179.9 L801.0,180.1 L802.2,180.0 L803.4,180.6 L804.7,181.0 L805.9,180.2 L807.1,179.7 L808.3,180.0 L809.6,181.3 L810.8,181.1 L812.0,179.3 L813.2,179.0 L814.4,179.6 L815.7,181.4 L816.9,180.9 L818.1,180.0 L819.3,182.3 L820.6,182.0 L821.8,181.3 L823.0,182.4 L824.2,181.8 L825.5,180.1 L826.7,179.9 L827.9,180.6 L829.1,179.2 L830.3,178.3 L831.6,179.6 L832.8,180.8 L834.0,181.6 L835.2,181.9 L836.5,180.8 L837.7,180.1 L838.9,180.3 L840.1,179.9 L841.4,180.5 L842.6,181.2 L843.8,180.2 L845.0,179.8 L846.2,179.6 L847.5,179.7 L848.7,180.6 L849.9,180.7 L851.1,181.1 L852.4,182.5 L853.6,181.4 L854.8,180.4 L856.0,180.6 L857.2,181.7 L858.5,182.2 L859.7,181.4 L860.9,181.8 L862.1,182.9 L863.4,182.6 L864.6,180.4 L865.8,180.0 L867.0,181.0 L868.3,181.3 L869.5,180.4 L870.7,182.2 L871.9,182.8 L873.1,180.6 L874.4,180.1 L875.6,179.3 L876.8,179.0 L878.0,180.0 L879.3,180.5 L880.5,180.2 L881.7,180.8 L882.9,181.4 L884.2,180.4 L885.4,179.1 L886.6,179.8 L887.8,181.1 L889.0,180.9 L890.3,180.0 L891.5,180.1 L892.7,180.1 L893.9,180.7 L895.2,181.8 L896.4,181.3 L897.6,180.7 L898.8,179.8 L900.1,181.4 L901.3,182.7 L902.5,181.5 L903.7,181.3 L904.9,182.6 L906.2,181.4 L907.4,180.1 L908.6,180.5 L909.8,181.1 L911.1,180.8 L912.3,180.6 L913.5,180.6 L914.7,181.0 L916.0,182.4 L917.2,181.6 L918.4,181.5 L919.6,181.2 L920.8,180.6 L922.1,181.6 L923.3,181.8 L924.5,181.4 L925.7,180.8 L927.0,181.0 L928.2,181.9 L929.4,180.7 L930.6,178.9 L931.8,178.4 L933.1,179.8 L934.3,181.0 L935.5,180.0 L936.7,180.3 L938.0,182.0 L939.2,181.8 L940.4,180.8 L941.6,181.5 L942.9,182.9 L944.1,183.3 L945.3,181.7 L946.5,181.3 L947.7,181.8 L949.0,181.2 L950.2,180.7 L951.4,181.0 L952.6,181.1 L953.9,181.5 L955.1,182.0 L956.3,182.1 L957.5,181.1 L958.8,180.5 L960.0,181.7 L961.2,181.9 L962.4,181.6 L963.6,180.9 L964.9,181.8 L966.1,182.9 L967.3,182.1 L968.5,179.7 L969.8,178.8 L971.0,180.6 L972.2,180.7 L973.4,179.3 L974.6,179.9 L975.9,181.5 L977.1,180.5 L978.3,179.9 L979.5,180.3 L980.8,180.9 L982.0,180.1 L983.2,178.6 L984.4,179.5 L985.7,180.2 L986.9,181.9 L988.1,181.9 L989.3,180.7 L990.5,180.8 L991.8,180.2 L993.0,180.7 L994.2,182.3 L995.4,181.8 L996.7,181.1 L997.9,181.6 L999.1,181.5 L1000.3,181.4 L1001.6,182.6 L1002.8,181.5 L1004.0,179.8" stroke="#000" stroke-width="3.1"/>
</g>
<path d="M123.5,188.9v-9M123.5,25.3v9M245.8,188.9v-9M245.8,25.3v9M368.1,188.9v-9M368.1,25.3v9M490.4,188.9v-9M490.4,25.3v9M612.7,188.9v-9M612.7,25.3v9M735.0,188.9v-9M735.0,25.3v9M857.2,188.9v-9M857.2,25.3v9M979.5,188.9v-9M979.5,25.3v9M123.5,180.8h9M1004.0,180.8h-9M123.5,119.8h9M1004.0,119.8h-9M123.5,58.7h9M1004.0,58.7h-9" stroke="#555555" stroke-width="1.25" fill="none"/>
<rect x="123.5" y="25.3" width="880.5" height="163.6" stroke="#555555" stroke-width="1.4" fill="none"/>
<g font-family='"Liberation Serif", serif' font-size="31" fill="#262626">
<text x="122.3" y="227.9" text-anchor="middle">0</text>
<text x="244.6" y="227.9" text-anchor="middle">50</text>
<text x="366.9" y="227.9" text-anchor="middle">100</text>
<text x="489.2" y="227.9" text-anchor="middle">150</text>
<text x="611.5" y="227.9" text-anchor="middle">200</text>
<text x="733.8" y="227.9" text-anchor="middle">250</text>
<text x="856.0" y="227.9" text-anchor="middle">300</text>
<text x="978.3" y="227.9" text-anchor="middle">350</text>
<text x="112" y="191.7" text-anchor="end">0</text>
<text x="112" y="130.6" text-anchor="end">0.01</text>
<text x="112" y="69.5" text-anchor="end">0.02</text>
</g>
<text x="562.0" y="264.5" text-anchor="middle" font-family='"Liberation Serif", serif' font-size="35" fill="#000">time (s)</text>
<text transform="translate(31.5,149.3) rotate(-90)" font-family='"Liberation Serif", serif' font-size="33" fill="#000">f</text>
<text transform="translate(47.8,136.5) rotate(-90)" font-family='"Liberation Serif", serif' font-size="25" fill="#000">x</text>
<text transform="translate(31.5,113.9) rotate(-90)" font-family='"Liberation Serif", serif' font-size="33" fill="#000">(N)</text>
<clipPath id="c1"><rect x="123.5" y="280.8" width="880.5" height="164.39999999999998"/></clipPath>
<path d="M245.8,280.8V445.2M368.1,280.8V445.2M490.4,280.8V445.2M612.7,280.8V445.2M735.0,280.8V445.2M857.2,280.8V445.2M979.5,280.8V445.2M123.5,438.3H1004.0M123.5,359.5H1004.0" stroke="#e6e6e6" stroke-width="1" fill="none"/>
<g clip-path="url(#c1)" fill="none" stroke-linejoin="round">
<path d="M123.5,357.0 L124.7,355.3 L125.9,353.7 L127.2,352.2 L128.4,350.7 L129.6,349.2 L130.8,347.8 L132.1,346.4 L133.3,345.1 L134.5,343.9 L135.7,342.7 L137.0,341.5 L138.2,340.4 L139.4,339.3 L140.6,338.3 L141.8,337.3 L143.1,336.4 L144.3,335.5 L145.5,334.6 L146.7,333.8 L148.0,333.1 L149.2,332.4 L150.4,331.7 L151.6,331.0 L152.8,330.4 L154.1,329.9 L155.3,329.3 L156.5,328.9 L157.7,328.4 L159.0,328.0 L160.2,327.6 L161.4,327.3 L162.6,327.0 L163.9,326.7 L165.1,326.5 L166.3,326.3 L167.5,326.1 L168.7,325.9 L170.0,325.8 L171.2,325.8 L172.4,325.7 L173.6,325.7 L174.9,325.7 L176.1,325.7 L177.3,325.8 L178.5,325.9 L179.8,326.0 L181.0,326.2 L182.2,326.3 L183.4,326.5 L184.6,326.8 L185.9,327.0 L187.1,327.3 L188.3,327.6 L189.5,327.9 L190.8,328.2 L192.0,328.6 L193.2,328.9 L194.4,329.3 L195.7,329.7 L196.9,330.2 L198.1,330.6 L199.3,331.1 L200.5,331.6 L201.8,332.1 L203.0,332.6 L204.2,333.1 L205.4,333.7 L206.7,334.2 L207.9,334.8 L209.1,335.4 L210.3,336.0 L211.6,336.6 L212.8,337.2 L214.0,337.8 L215.2,338.5 L216.4,339.1 L217.7,339.8 L218.9,340.4 L220.1,341.1 L221.3,341.8 L222.6,342.5 L223.8,343.2 L225.0,343.9 L226.2,344.6 L227.4,345.3 L228.7,346.0 L229.9,346.7 L231.1,347.5 L232.3,348.2 L233.6,348.9 L234.8,349.7 L236.0,350.4 L237.2,351.2 L238.5,352.0 L239.7,352.7 L240.9,353.5 L242.1,354.3 L243.3,355.1 L244.6,355.8 L245.8,356.6 L247.0,357.4 L248.2,358.2 L249.5,359.0 L250.7,359.8 L251.9,360.6 L253.1,361.4 L254.4,362.2 L255.6,363.0 L256.8,363.8 L258.0,364.6 L259.2,365.5 L260.5,366.3 L261.7,367.1 L262.9,367.9 L264.1,368.7 L265.4,369.5 L266.6,370.4 L267.8,371.2 L269.0,372.0 L270.2,372.8 L271.5,373.6 L272.7,374.4 L273.9,375.3 L275.1,376.1 L276.4,376.9 L277.6,377.7 L278.8,378.5 L280.0,379.3 L281.3,380.1 L282.5,380.9 L283.7,381.7 L284.9,382.5 L286.1,383.3 L287.4,384.1 L288.6,384.9 L289.8,385.6 L291.0,386.4 L292.3,387.2 L293.5,388.0 L294.7,388.7 L295.9,389.5 L297.2,390.3 L298.4,391.0 L299.6,391.7 L300.8,392.5 L302.0,393.2 L303.3,394.0 L304.5,394.7 L305.7,395.4 L306.9,396.1 L308.2,396.8 L309.4,397.5 L310.6,398.2 L311.8,398.9 L313.1,399.6 L314.3,400.2 L315.5,400.9 L316.7,401.5 L317.9,402.2 L319.2,402.8 L320.4,403.5 L321.6,404.1 L322.8,404.7 L324.1,405.3 L325.3,405.9 L326.5,406.5 L327.7,407.1 L328.9,407.7 L330.2,408.3 L331.4,408.9 L332.6,409.5 L333.8,410.0 L335.1,410.6 L336.3,411.1 L337.5,411.7 L338.7,412.2 L340.0,412.7 L341.2,413.3 L342.4,413.8 L343.6,414.3 L344.8,414.8 L346.1,415.3 L347.3,415.8 L348.5,416.3 L349.7,416.8 L351.0,417.3 L352.2,417.7 L353.4,418.2 L354.6,418.7 L355.9,419.1 L357.1,419.6 L358.3,420.0 L359.5,420.4 L360.7,420.9 L362.0,421.3 L363.2,421.7 L364.4,422.1 L365.6,422.5 L366.9,423.0 L368.1,423.4 L369.3,423.7 L370.5,424.1 L371.8,424.5 L373.0,424.9 L374.2,425.3 L375.4,425.6 L376.6,426.0 L377.9,426.4 L379.1,426.7 L380.3,427.1 L381.5,427.4 L382.8,427.7 L384.0,428.1 L385.2,428.4 L386.4,428.7 L387.6,429.1 L388.9,429.4 L390.1,429.7 L391.3,430.0 L392.5,430.3 L393.8,430.6 L395.0,430.9 L396.2,431.2 L397.4,431.4 L398.7,431.7 L399.9,432.0 L401.1,432.3 L402.3,432.5 L403.5,432.8 L404.8,433.0 L406.0,433.3 L407.2,433.5 L408.4,433.8 L409.7,434.0 L410.9,434.3 L412.1,434.5 L413.3,434.7 L414.6,434.9 L415.8,435.2 L417.0,435.4 L418.2,435.6 L419.4,435.8 L420.7,436.0 L421.9,436.2 L423.1,436.4 L424.3,436.6 L425.6,436.8 L426.8,436.9 L428.0,437.1 L429.2,437.3 L430.5,437.5 L431.7,437.7 L432.9,437.8 L434.1,438.0 L435.3,438.1 L436.6,438.3 L437.8,438.5 L439.0,438.6 L440.2,438.8 L441.5,438.9 L442.7,439.0 L443.9,439.2 L445.1,439.3 L446.4,439.4 L447.6,439.6 L448.8,439.7 L450.0,439.8 L451.2,439.9 L452.5,440.0 L453.7,440.2 L454.9,440.3 L456.1,440.4 L457.4,440.5 L458.6,440.6 L459.8,440.7 L461.0,440.8 L462.2,440.9 L463.5,441.0 L464.7,441.1 L465.9,441.1 L467.1,441.2 L468.4,441.3 L469.6,441.4 L470.8,441.5 L472.0,441.5 L473.3,441.6 L474.5,441.7 L475.7,441.8 L476.9,441.8 L478.1,441.9 L479.4,441.9 L480.6,442.0 L481.8,442.1 L483.0,442.1 L484.3,442.2 L485.5,442.2 L486.7,442.3 L487.9,442.3 L489.2,442.4 L490.4,442.4 L491.6,442.4 L492.8,442.5 L494.0,442.5 L495.3,442.6 L496.5,442.6 L497.7,442.6 L498.9,442.6 L500.2,442.7 L501.4,442.7 L502.6,442.7 L503.8,442.8 L505.1,442.8 L506.3,442.8 L507.5,442.8 L508.7,442.8 L509.9,442.8 L511.2,442.9 L512.4,442.9 L513.6,442.9 L514.8,442.9 L516.1,442.9 L517.3,442.9 L518.5,442.9 L519.7,442.9 L520.9,442.9 L522.2,442.9 L523.4,442.9 L524.6,442.9 L525.8,442.9 L527.1,442.9 L528.3,442.9 L529.5,442.9 L530.7,442.9 L532.0,442.9 L533.2,442.9 L534.4,442.8 L535.6,442.8 L536.8,442.8 L538.1,442.8 L539.3,442.8 L540.5,442.8 L541.7,442.7 L543.0,442.7 L544.2,442.7 L545.4,442.7 L546.6,442.7 L547.9,442.6 L549.1,442.6 L550.3,442.6 L551.5,442.6 L552.7,442.5 L554.0,442.5 L555.2,442.5 L556.4,442.4 L557.6,442.4 L558.9,442.4 L560.1,442.3 L561.3,442.3 L562.5,442.3 L563.8,442.3 L565.0,442.2 L566.2,442.2 L567.4,442.1 L568.6,442.1 L569.9,442.1 L571.1,442.0 L572.3,442.0 L573.5,442.0 L574.8,441.9 L576.0,441.9 L577.2,441.8 L578.4,441.8 L579.6,441.8 L580.9,441.7 L582.1,441.7 L583.3,441.6 L584.5,441.6 L585.8,441.6 L587.0,441.5 L588.2,441.5 L589.4,441.4 L590.7,441.4 L591.9,441.4 L593.1,441.3 L594.3,441.3 L595.5,441.2 L596.8,441.2 L598.0,441.1 L599.2,441.1 L600.4,441.1 L601.7,441.0 L602.9,441.0 L604.1,440.9 L605.3,440.9 L606.6,440.9 L607.8,440.8 L609.0,440.8 L610.2,440.7 L611.4,440.7 L612.7,440.7 L613.9,440.6 L615.1,440.6 L616.3,440.5 L617.6,440.5 L618.8,440.5 L620.0,440.4 L621.2,440.4 L622.5,440.3 L623.7,440.3 L624.9,440.3 L626.1,440.2 L627.3,440.2 L628.6,440.2 L629.8,440.1 L631.0,440.1 L632.2,440.0 L633.5,440.0 L634.7,440.0 L635.9,439.9 L637.1,439.9 L638.3,439.9 L639.6,439.8 L640.8,439.8 L642.0,439.8 L643.2,439.7 L644.5,439.7 L645.7,439.7 L646.9,439.6 L648.1,439.6 L649.4,439.6 L650.6,439.5 L651.8,439.5 L653.0,439.5 L654.2,439.4 L655.5,439.4 L656.7,439.4 L657.9,439.3 L659.1,439.3 L660.4,439.3 L661.6,439.3 L662.8,439.2 L664.0,439.2 L665.3,439.2 L666.5,439.1 L667.7,439.1 L668.9,439.1 L670.1,439.1 L671.4,439.0 L672.6,439.0 L673.8,439.0 L675.0,438.9 L676.3,438.9 L677.5,438.9 L678.7,438.9 L679.9,438.8 L681.1,438.8 L682.4,438.8 L683.6,438.8 L684.8,438.7 L686.0,438.7 L687.3,438.7 L688.5,438.7 L689.7,438.6 L690.9,438.6 L692.2,438.6 L693.4,438.6 L694.6,438.5 L695.8,438.5 L697.0,438.5 L698.3,438.5 L699.5,438.4 L700.7,438.4 L701.9,438.4 L703.2,438.4 L704.4,438.4 L705.6,438.3 L706.8,438.3 L708.1,438.3 L709.3,438.3 L710.5,438.2 L711.7,438.2 L712.9,438.2 L714.2,438.2 L715.4,438.2 L716.6,438.1 L717.8,438.1 L719.1,438.1 L720.3,438.1 L721.5,438.1 L722.7,438.0 L724.0,438.0 L725.2,438.0 L726.4,438.0 L727.6,438.0 L728.8,438.0 L730.1,437.9 L731.3,437.9 L732.5,437.9 L733.7,437.9 L735.0,437.9 L736.2,437.9 L737.4,437.8 L738.6,437.8 L739.9,437.8 L741.1,437.8 L742.3,437.8 L743.5,437.8 L744.7,437.7 L746.0,437.7 L747.2,437.7 L748.4,437.7 L749.6,437.7 L750.9,437.7 L752.1,437.6 L753.3,437.6 L754.5,437.6 L755.7,437.6 L757.0,437.6 L758.2,437.6 L759.4,437.6 L760.6,437.6 L761.9,437.5 L763.1,437.5 L764.3,437.5 L765.5,437.5 L766.8,437.5 L768.0,437.5 L769.2,437.5 L770.4,437.4 L771.6,437.4 L772.9,437.4 L774.1,437.4 L775.3,437.4 L776.5,437.4 L777.8,437.4 L779.0,437.4 L780.2,437.4 L781.4,437.3 L782.7,437.3 L783.9,437.3 L785.1,437.3 L786.3,437.3 L787.5,437.3 L788.8,437.3 L790.0,437.3 L791.2,437.3 L792.4,437.3 L793.7,437.2 L794.9,437.2 L796.1,437.2 L797.3,437.2 L798.5,437.2 L799.8,437.2 L801.0,437.2 L802.2,437.2 L803.4,437.2 L804.7,437.2 L805.9,437.2 L807.1,437.2 L808.3,437.1 L809.6,437.1 L810.8,437.1 L812.0,437.1 L813.2,437.1 L814.4,437.1 L815.7,437.1 L816.9,437.1 L818.1,437.1 L819.3,437.1 L820.6,437.1 L821.8,437.1 L823.0,437.1 L824.2,437.1 L825.5,437.0 L826.7,437.0 L827.9,437.0 L829.1,437.0 L830.3,437.0 L831.6,437.0 L832.8,437.0 L834.0,437.0 L835.2,437.0 L836.5,437.0 L837.7,437.0 L838.9,437.0 L840.1,437.0 L841.4,437.0 L842.6,437.0 L843.8,437.0 L845.0,437.0 L846.2,437.0 L847.5,437.0 L848.7,436.9 L849.9,436.9 L851.1,436.9 L852.4,436.9 L853.6,436.9 L854.8,436.9 L856.0,436.9 L857.2,436.9 L858.5,436.9 L859.7,436.9 L860.9,436.9 L862.1,436.9 L863.4,436.9 L864.6,436.9 L865.8,436.9 L867.0,436.9 L868.3,436.9 L869.5,436.9 L870.7,436.9 L871.9,436.9 L873.1,436.9 L874.4,436.9 L875.6,436.9 L876.8,436.9 L878.0,436.9 L879.3,436.9 L880.5,436.9 L881.7,436.9 L882.9,436.9 L884.2,436.9 L885.4,436.9 L886.6,436.9 L887.8,436.9 L889.0,436.9 L890.3,436.9 L891.5,436.9 L892.7,436.9 L893.9,436.9 L895.2,436.9 L896.4,436.8 L897.6,436.8 L898.8,436.8 L900.1,436.8 L901.3,436.8 L902.5,436.8 L903.7,436.8 L904.9,436.8 L906.2,436.8 L907.4,436.8 L908.6,436.8 L909.8,436.8 L911.1,436.8 L912.3,436.8 L913.5,436.8 L914.7,436.8 L916.0,436.8 L917.2,436.8 L918.4,436.8 L919.6,436.8 L920.8,436.8 L922.1,436.8 L923.3,436.8 L924.5,436.8 L925.7,436.8 L927.0,436.8 L928.2,436.8 L929.4,436.8 L930.6,436.8 L931.8,436.8 L933.1,436.8 L934.3,436.8 L935.5,436.8 L936.7,436.8 L938.0,436.8 L939.2,436.8 L940.4,436.8 L941.6,436.8 L942.9,436.8 L944.1,436.8 L945.3,436.8 L946.5,436.8 L947.7,436.8 L949.0,436.8 L950.2,436.8 L951.4,436.8 L952.6,436.8 L953.9,436.8 L955.1,436.8 L956.3,436.8 L957.5,436.8 L958.8,436.8 L960.0,436.8 L961.2,436.8 L962.4,436.8 L963.6,436.8 L964.9,436.8 L966.1,436.8 L967.3,436.8 L968.5,436.8 L969.8,436.8 L971.0,436.8 L972.2,436.8 L973.4,436.8 L974.6,436.8 L975.9,436.8 L977.1,436.8 L978.3,436.8 L979.5,436.8 L980.8,436.8 L982.0,436.8 L983.2,436.8 L984.4,436.8 L985.7,436.8 L986.9,436.8 L988.1,436.8 L989.3,436.8 L990.5,436.8 L991.8,436.8 L993.0,436.8 L994.2,436.8 L995.4,436.8 L996.7,436.8 L997.9,436.8 L999.1,436.8 L1000.3,436.8 L1001.6,436.8 L1002.8,436.8 L1004.0,436.8" stroke="#0000ff" stroke-width="4.2"/>
<path d="M123.5,357.0 L124.7,355.3 L125.9,353.7 L127.2,352.2 L128.4,350.7 L129.6,349.2 L130.8,347.8 L132.1,346.4 L133.3,345.1 L134.5,343.9 L135.7,342.7 L137.0,341.5 L138.2,340.4 L139.4,339.3 L140.6,338.3 L141.8,337.3 L143.1,336.4 L144.3,335.5 L145.5,334.6 L146.7,333.8 L148.0,333.1 L149.2,332.4 L150.4,331.7 L151.6,331.0 L152.8,330.4 L154.1,329.9 L155.3,329.3 L156.5,328.9 L157.7,328.4 L159.0,328.0 L160.2,327.6 L161.4,327.3 L162.6,327.0 L163.9,326.7 L165.1,326.5 L166.3,326.3 L167.5,326.1 L168.7,325.9 L170.0,325.8 L171.2,325.8 L172.4,325.7 L173.6,325.7 L174.9,325.7 L176.1,325.7 L177.3,325.8 L178.5,325.9 L179.8,326.0 L181.0,326.2 L182.2,326.3 L183.4,326.5 L184.6,326.8 L185.9,327.0 L187.1,327.3 L188.3,327.6 L189.5,327.9 L190.8,328.2 L192.0,328.6 L193.2,328.9 L194.4,329.3 L195.7,329.7 L196.9,330.2 L198.1,330.6 L199.3,331.1 L200.5,331.6 L201.8,332.1 L203.0,332.6 L204.2,333.1 L205.4,333.7 L206.7,334.2 L207.9,334.8 L209.1,335.4 L210.3,336.0 L211.6,336.6 L212.8,337.2 L214.0,337.8 L215.2,338.5 L216.4,339.1 L217.7,339.8 L218.9,340.4 L220.1,341.1 L221.3,341.8" stroke="#ff0000" stroke-width="4.2" stroke-dasharray="14.37 8.78 16.33 1.55 63.91 2.04 6.39 0.00"/>
<path d="M221.3,341.8 L222.6,342.5 L223.8,343.2 L225.0,343.9 L226.2,344.6 L227.4,345.3 L228.7,346.0 L229.9,346.7 L231.1,347.5 L232.3,348.2 L233.6,348.9 L234.8,349.7 L236.0,350.4 L237.2,351.2 L238.5,352.0 L239.7,352.7 L240.9,353.5 L242.1,354.3 L243.3,355.1 L244.6,355.8 L245.8,356.6 L247.0,357.4 L248.2,358.2 L249.5,359.0 L250.7,359.8 L251.9,360.6 L253.1,361.4 L254.4,362.2 L255.6,363.0 L256.8,363.8 L258.0,364.6 L259.2,365.5 L260.5,366.3 L261.7,367.1 L262.9,367.9 L264.1,368.7 L265.4,369.5 L266.6,370.4 L267.8,371.2 L269.0,372.0 L270.2,372.8 L271.5,373.6 L272.7,374.4 L273.9,375.3 L275.1,376.1 L276.4,376.9 L277.6,377.7 L278.8,378.5 L280.0,379.3 L281.3,380.1 L282.5,380.9 L283.7,381.7 L284.9,382.5 L286.1,383.3 L287.4,384.1 L288.6,384.9 L289.8,385.6 L291.0,386.4 L292.3,387.2 L293.5,388.0 L294.7,388.7 L295.9,389.5 L297.2,390.3 L298.4,391.0 L299.6,391.7 L300.8,392.5 L302.0,393.2 L303.3,394.0 L304.5,394.7 L305.7,395.4 L306.9,396.1 L308.2,396.8 L309.4,397.5 L310.6,398.2 L311.8,398.9 L313.1,399.6 L314.3,400.2 L315.5,400.9 L316.7,401.5 L317.9,402.2 L319.2,402.8 L320.4,403.5 L321.6,404.1 L322.8,404.7 L324.1,405.3 L325.3,405.9 L326.5,406.5 L327.7,407.1 L328.9,407.7 L330.2,408.3 L331.4,408.9 L332.6,409.5 L333.8,410.0 L335.1,410.6 L336.3,411.1 L337.5,411.7 L338.7,412.2 L340.0,412.7 L341.2,413.3 L342.4,413.8 L343.6,414.3 L344.8,414.8 L346.1,415.3 L347.3,415.8 L348.5,416.3 L349.7,416.8 L351.0,417.3 L352.2,417.7 L353.4,418.2 L354.6,418.7 L355.9,419.1 L357.1,419.6 L358.3,420.0 L359.5,420.4 L360.7,420.9 L362.0,421.3 L363.2,421.7 L364.4,422.1 L365.6,422.5 L366.9,423.0 L368.1,423.4 L369.3,423.7 L370.5,424.1 L371.8,424.5 L373.0,424.9 L374.2,425.3 L375.4,425.6 L376.6,426.0 L377.9,426.4 L379.1,426.7 L380.3,427.1 L381.5,427.4 L382.8,427.7 L384.0,428.1 L385.2,428.4 L386.4,428.7 L387.6,429.1 L388.9,429.4 L390.1,429.7 L391.3,430.0 L392.5,430.3 L393.8,430.6 L395.0,430.9 L396.2,431.2 L397.4,431.4 L398.7,431.7 L399.9,432.0 L401.1,432.3 L402.3,432.5 L403.5,432.8 L404.8,433.0 L406.0,433.3 L407.2,433.5 L408.4,433.8 L409.7,434.0 L410.9,434.3 L412.1,434.5 L413.3,434.7 L414.6,434.9 L415.8,435.2 L417.0,435.4 L418.2,435.6 L419.4,435.8 L420.7,436.0 L421.9,436.2 L423.1,436.4 L424.3,436.6 L425.6,436.8 L426.8,436.9 L428.0,437.1 L429.2,437.3 L430.5,437.5 L431.7,437.7 L432.9,437.8 L434.1,438.0 L435.3,438.1 L436.6,438.3 L437.8,438.5 L439.0,438.6 L440.2,438.8 L441.5,438.9 L442.7,439.0 L443.9,439.2 L445.1,439.3 L446.4,439.4 L447.6,439.6 L448.8,439.7 L450.0,439.8 L451.2,439.9 L452.5,440.0 L453.7,440.2 L454.9,440.3 L456.1,440.4 L457.4,440.5 L458.6,440.6 L459.8,440.7 L461.0,440.8 L462.2,440.9 L463.5,441.0 L464.7,441.1 L465.9,441.1 L467.1,441.2 L468.4,441.3 L469.6,441.4 L470.8,441.5 L472.0,441.5 L473.3,441.6 L474.5,441.7 L475.7,441.8 L476.9,441.8 L478.1,441.9 L479.4,441.9 L480.6,442.0 L481.8,442.1 L483.0,442.1 L484.3,442.2 L485.5,442.2 L486.7,442.3 L487.9,442.3 L489.2,442.4 L490.4,442.4 L491.6,442.4 L492.8,442.5 L494.0,442.5 L495.3,442.6 L496.5,442.6 L497.7,442.6 L498.9,442.6 L500.2,442.7 L501.4,442.7 L502.6,442.7 L503.8,442.8 L505.1,442.8 L506.3,442.8 L507.5,442.8 L508.7,442.8 L509.9,442.8 L511.2,442.9 L512.4,442.9 L513.6,442.9 L514.8,442.9 L516.1,442.9 L517.3,442.9 L518.5,442.9 L519.7,442.9 L520.9,442.9 L522.2,442.9 L523.4,442.9 L524.6,442.9 L525.8,442.9 L527.1,442.9 L528.3,442.9 L529.5,442.9 L530.7,442.9 L532.0,442.9 L533.2,442.9 L534.4,442.8 L535.6,442.8 L536.8,442.8 L538.1,442.8 L539.3,442.8 L540.5,442.8 L541.7,442.7 L543.0,442.7 L544.2,442.7 L545.4,442.7 L546.6,442.7 L547.9,442.6 L549.1,442.6 L550.3,442.6 L551.5,442.6 L552.7,442.5 L554.0,442.5 L555.2,442.5 L556.4,442.4 L557.6,442.4 L558.9,442.4 L560.1,442.3 L561.3,442.3 L562.5,442.3 L563.8,442.3 L565.0,442.2 L566.2,442.2 L567.4,442.1 L568.6,442.1 L569.9,442.1 L571.1,442.0 L572.3,442.0 L573.5,442.0 L574.8,441.9 L576.0,441.9 L577.2,441.8 L578.4,441.8 L579.6,441.8 L580.9,441.7 L582.1,441.7 L583.3,441.6 L584.5,441.6 L585.8,441.6 L587.0,441.5 L588.2,441.5 L589.4,441.4 L590.7,441.4 L591.9,441.4 L593.1,441.3 L594.3,441.3 L595.5,441.2 L596.8,441.2 L598.0,441.1 L599.2,441.1 L600.4,441.1 L601.7,441.0 L602.9,441.0 L604.1,440.9 L605.3,440.9 L606.6,440.9 L607.8,440.8 L609.0,440.8 L610.2,440.7 L611.4,440.7 L612.7,440.7 L613.9,440.6 L615.1,440.6 L616.3,440.5 L617.6,440.5 L618.8,440.5 L620.0,440.4 L621.2,440.4 L622.5,440.3 L623.7,440.3 L624.9,440.3 L626.1,440.2 L627.3,440.2 L628.6,440.2 L629.8,440.1 L631.0,440.1 L632.2,440.0 L633.5,440.0 L634.7,440.0 L635.9,439.9 L637.1,439.9 L638.3,439.9 L639.6,439.8 L640.8,439.8 L642.0,439.8 L643.2,439.7 L644.5,439.7 L645.7,439.7 L646.9,439.6 L648.1,439.6 L649.4,439.6 L650.6,439.5 L651.8,439.5 L653.0,439.5 L654.2,439.4 L655.5,439.4 L656.7,439.4 L657.9,439.3 L659.1,439.3 L660.4,439.3 L661.6,439.3 L662.8,439.2 L664.0,439.2 L665.3,439.2 L666.5,439.1 L667.7,439.1 L668.9,439.1 L670.1,439.1 L671.4,439.0 L672.6,439.0 L673.8,439.0 L675.0,438.9 L676.3,438.9 L677.5,438.9 L678.7,438.9 L679.9,438.8 L681.1,438.8 L682.4,438.8 L683.6,438.8 L684.8,438.7 L686.0,438.7 L687.3,438.7 L688.5,438.7 L689.7,438.6 L690.9,438.6 L692.2,438.6 L693.4,438.6 L694.6,438.5 L695.8,438.5 L697.0,438.5 L698.3,438.5 L699.5,438.4 L700.7,438.4 L701.9,438.4 L703.2,438.4 L704.4,438.4 L705.6,438.3 L706.8,438.3 L708.1,438.3 L709.3,438.3 L710.5,438.2 L711.7,438.2 L712.9,438.2 L714.2,438.2 L715.4,438.2 L716.6,438.1 L717.8,438.1 L719.1,438.1 L720.3,438.1 L721.5,438.1 L722.7,438.0 L724.0,438.0 L725.2,438.0 L726.4,438.0 L727.6,438.0 L728.8,438.0 L730.1,437.9 L731.3,437.9 L732.5,437.9 L733.7,437.9 L735.0,437.9 L736.2,437.9 L737.4,437.8 L738.6,437.8 L739.9,437.8 L741.1,437.8 L742.3,437.8 L743.5,437.8 L744.7,437.7 L746.0,437.7 L747.2,437.7 L748.4,437.7 L749.6,437.7 L750.9,437.7 L752.1,437.6 L753.3,437.6 L754.5,437.6 L755.7,437.6 L757.0,437.6 L758.2,437.6 L759.4,437.6 L760.6,437.6 L761.9,437.5 L763.1,437.5 L764.3,437.5 L765.5,437.5 L766.8,437.5 L768.0,437.5 L769.2,437.5 L770.4,437.4 L771.6,437.4 L772.9,437.4 L774.1,437.4 L775.3,437.4 L776.5,437.4 L777.8,437.4 L779.0,437.4 L780.2,437.4 L781.4,437.3 L782.7,437.3 L783.9,437.3 L785.1,437.3 L786.3,437.3 L787.5,437.3 L788.8,437.3 L790.0,437.3 L791.2,437.3 L792.4,437.3 L793.7,437.2 L794.9,437.2 L796.1,437.2 L797.3,437.2 L798.5,437.2 L799.8,437.2 L801.0,437.2 L802.2,437.2 L803.4,437.2 L804.7,437.2 L805.9,437.2 L807.1,437.2 L808.3,437.1 L809.6,437.1 L810.8,437.1 L812.0,437.1 L813.2,437.1 L814.4,437.1 L815.7,437.1 L816.9,437.1 L818.1,437.1 L819.3,437.1 L820.6,437.1 L821.8,437.1 L823.0,437.1 L824.2,437.1 L825.5,437.0 L826.7,437.0 L827.9,437.0 L829.1,437.0 L830.3,437.0 L831.6,437.0 L832.8,437.0 L834.0,437.0 L835.2,437.0 L836.5,437.0 L837.7,437.0 L838.9,437.0 L840.1,437.0 L841.4,437.0 L842.6,437.0 L843.8,437.0 L845.0,437.0 L846.2,437.0 L847.5,437.0 L848.7,436.9 L849.9,436.9 L851.1,436.9 L852.4,436.9 L853.6,436.9 L854.8,436.9 L856.0,436.9 L857.2,436.9 L858.5,436.9 L859.7,436.9 L860.9,436.9 L862.1,436.9 L863.4,436.9 L864.6,436.9 L865.8,436.9 L867.0,436.9 L868.3,436.9 L869.5,436.9 L870.7,436.9 L871.9,436.9 L873.1,436.9 L874.4,436.9 L875.6,436.9 L876.8,436.9 L878.0,436.9 L879.3,436.9 L880.5,436.9 L881.7,436.9 L882.9,436.9 L884.2,436.9 L885.4,436.9 L886.6,436.9 L887.8,436.9 L889.0,436.9 L890.3,436.9 L891.5,436.9 L892.7,436.9 L893.9,436.9 L895.2,436.9 L896.4,436.8 L897.6,436.8 L898.8,436.8 L900.1,436.8 L901.3,436.8 L902.5,436.8 L903.7,436.8 L904.9,436.8 L906.2,436.8 L907.4,436.8 L908.6,436.8 L909.8,436.8 L911.1,436.8 L912.3,436.8 L913.5,436.8 L914.7,436.8 L916.0,436.8 L917.2,436.8 L918.4,436.8 L919.6,436.8 L920.8,436.8 L922.1,436.8 L923.3,436.8 L924.5,436.8 L925.7,436.8 L927.0,436.8 L928.2,436.8 L929.4,436.8 L930.6,436.8 L931.8,436.8 L933.1,436.8 L934.3,436.8 L935.5,436.8 L936.7,436.8 L938.0,436.8 L939.2,436.8 L940.4,436.8 L941.6,436.8 L942.9,436.8 L944.1,436.8 L945.3,436.8 L946.5,436.8 L947.7,436.8 L949.0,436.8 L950.2,436.8 L951.4,436.8 L952.6,436.8 L953.9,436.8 L955.1,436.8 L956.3,436.8 L957.5,436.8 L958.8,436.8 L960.0,436.8 L961.2,436.8 L962.4,436.8 L963.6,436.8 L964.9,436.8 L966.1,436.8 L967.3,436.8 L968.5,436.8 L969.8,436.8 L971.0,436.8 L972.2,436.8 L973.4,436.8 L974.6,436.8 L975.9,436.8 L977.1,436.8 L978.3,436.8 L979.5,436.8 L980.8,436.8 L982.0,436.8 L983.2,436.8 L984.4,436.8 L985.7,436.8 L986.9,436.8 L988.1,436.8 L989.3,436.8 L990.5,436.8 L991.8,436.8 L993.0,436.8 L994.2,436.8 L995.4,436.8 L996.7,436.8 L997.9,436.8 L999.1,436.8 L1000.3,436.8 L1001.6,436.8 L1002.8,436.8 L1004.0,436.8" stroke="#ff0000" stroke-width="4.2" stroke-dasharray="15 3"/>
<path d="M123.5,308.9 L124.7,308.7 L125.9,308.5 L127.2,308.3 L128.4,308.1 L129.6,308.1 L130.8,308.1 L132.1,308.2 L133.3,308.4 L134.5,308.6 L135.7,308.7 L137.0,308.4 L138.2,308.4 L139.4,308.7 L140.6,309.1 L141.8,309.7 L143.1,310.0 L144.3,310.2 L145.5,310.8 L146.7,311.3 L148.0,311.7 L149.2,312.2 L150.4,312.7 L151.6,313.2 L152.8,313.8 L154.1,313.9 L155.3,314.4 L156.5,315.2 L157.7,315.7 L159.0,316.2 L160.2,317.0 L161.4,317.7 L162.6,318.0 L163.9,318.5 L165.1,319.3 L166.3,319.7 L167.5,320.4 L168.7,321.2 L170.0,321.8 L171.2,322.3 L172.4,323.2 L173.6,324.7 L174.9,324.8 L176.1,324.9 L177.3,325.1 L178.5,325.4 L179.8,326.9 L181.0,327.8 L182.2,327.9 L183.4,329.1 L184.6,329.4 L185.9,330.2 L187.1,331.8 L188.3,332.2 L189.5,332.6 L190.8,333.3 L192.0,333.2 L193.2,333.4 L194.4,333.5 L195.7,334.3 L196.9,336.2 L198.1,337.0 L199.3,337.4 L200.5,338.2 L201.8,338.2 L203.0,338.6 L204.2,340.2 L205.4,340.3 L206.7,340.2 L207.9,341.0 L209.1,341.5 L210.3,342.1 L211.6,342.8 L212.8,343.2 L214.0,343.8 L215.2,344.9 L216.4,345.6 L217.7,347.1 L218.9,348.1 L220.1,348.4 L221.3,349.0 L222.6,350.2 L223.8,350.4 L225.0,350.6 L226.2,352.6 L227.4,354.2 L228.7,354.6 L229.9,354.8 L231.1,355.8 L232.3,356.6 L233.6,357.4 L234.8,358.1 L236.0,359.0 L237.2,360.1 L238.5,360.3 L239.7,360.1 L240.9,361.7 L242.1,363.9 L243.3,364.7 L244.6,365.0 L245.8,366.1 L247.0,367.5 L248.2,367.9 L249.5,369.0 L250.7,370.2 L251.9,370.9 L253.1,372.3 L254.4,373.5 L255.6,373.7 L256.8,374.0 L258.0,374.7 L259.2,376.4 L260.5,377.4 L261.7,377.2 L262.9,377.6 L264.1,378.8 L265.4,380.3 L266.6,380.8 L267.8,381.5 L269.0,383.1 L270.2,384.0 L271.5,383.7 L272.7,384.1 L273.9,385.0 L275.1,386.1 L276.4,387.0 L277.6,387.8 L278.8,389.0 L280.0,388.5 L281.3,388.8 L282.5,390.8 L283.7,391.8 L284.9,392.2 L286.1,392.4 L287.4,393.4 L288.6,395.3 L289.8,395.9 L291.0,395.8 L292.3,396.3 L293.5,396.5 L294.7,397.0 L295.9,397.9 L297.2,399.1 L298.4,399.7 L299.6,399.0 L300.8,399.6 L302.0,401.0 L303.3,401.8 L304.5,401.8 L305.7,402.8 L306.9,404.1 L308.2,404.1 L309.4,404.4 L310.6,405.3 L311.8,406.0 L313.1,406.5 L314.3,407.1 L315.5,407.6 L316.7,408.6 L317.9,409.1 L319.2,408.8 L320.4,409.6 L321.6,410.6 L322.8,410.4 L324.1,411.3 L325.3,412.0 L326.5,412.4 L327.7,412.5 L328.9,411.6 L330.2,411.7 L331.4,413.2 L332.6,414.2 L333.8,414.5 L335.1,415.2 L336.3,415.1 L337.5,416.1 L338.7,416.7 L340.0,416.6 L341.2,416.9 L342.4,417.2 L343.6,418.5 L344.8,418.9 L346.1,418.7 L347.3,419.2 L348.5,419.7 L349.7,420.3 L351.0,421.8 L352.2,421.6 L353.4,420.8 L354.6,421.5 L355.9,422.1 L357.1,422.1 L358.3,422.7 L359.5,423.8 L360.7,424.0 L362.0,423.6 L363.2,424.4 L364.4,424.8 L365.6,424.8 L366.9,426.1 L368.1,425.6" stroke="#000" stroke-width="3.8"/>
<path d="M368.1,425.6 L369.3,425.2 L370.5,427.3 L371.8,427.8 L373.0,426.6 L374.2,425.9 L375.4,427.1 L376.6,427.9 L377.9,427.4 L379.1,428.5 L380.3,429.0 L381.5,428.9 L382.8,429.7 L384.0,430.3 L385.2,430.2 L386.4,430.1 L387.6,430.8 L388.9,431.4 L390.1,430.5 L391.3,430.3 L392.5,430.7 L393.8,430.3 L395.0,430.8 L396.2,430.3 L397.4,431.5 L398.7,432.7 L399.9,432.6 L401.1,432.1 L402.3,431.0 L403.5,433.8 L404.8,435.8 L406.0,434.3 L407.2,433.3 L408.4,433.4 L409.7,434.2 L410.9,434.6 L412.1,434.3 L413.3,434.9 L414.6,434.8 L415.8,436.5 L417.0,436.9 L418.2,436.3 L419.4,436.3 L420.7,435.9 L421.9,437.3 L423.1,437.1 L424.3,437.3 L425.6,438.3 L426.8,438.9 L428.0,438.5 L429.2,437.2 L430.5,436.7 L431.7,437.2 L432.9,437.4 L434.1,437.4 L435.3,438.3 L436.6,438.1 L437.8,437.5 L439.0,438.2 L440.2,439.2 L441.5,439.2 L442.7,439.1 L443.9,439.8 L445.1,439.2 L446.4,439.0 L447.6,439.5 L448.8,439.9 L450.0,440.1 L451.2,439.4 L452.5,440.0 L453.7,439.0 L454.9,438.6 L456.1,438.8 L457.4,438.5 L458.6,440.3 L459.8,441.3 L461.0,440.6 L462.2,440.4 L463.5,440.8 L464.7,441.1 L465.9,442.4 L467.1,442.5 L468.4,442.8 L469.6,442.5 L470.8,441.6 L472.0,442.4 L473.3,442.1 L474.5,441.5 L475.7,442.4 L476.9,443.8 L478.1,443.6 L479.4,443.9 L480.6,443.9 L481.8,441.5 L483.0,441.6 L484.3,442.3 L485.5,442.5 L486.7,442.8 L487.9,442.2 L489.2,442.4 L490.4,441.9 L491.6,440.7 L492.8,441.0 L494.0,442.1 L495.3,443.0 L496.5,442.7 L497.7,442.2 L498.9,442.1 L500.2,442.0 L501.4,441.4 L502.6,442.7 L503.8,444.1 L505.1,442.2 L506.3,442.3 L507.5,443.4 L508.7,443.4 L509.9,443.8 L511.2,443.6 L512.4,441.0 L513.6,440.3 L514.8,442.7 L516.1,444.1 L517.3,443.6 L518.5,442.4 L519.7,442.7 L520.9,443.8 L522.2,442.7 L523.4,441.6 L524.6,442.5 L525.8,443.8 L527.1,444.6 L528.3,444.3 L529.5,444.8 L530.7,443.8 L532.0,442.7 L533.2,442.9 L534.4,441.2 L535.6,440.7 L536.8,442.8 L538.1,443.0 L539.3,441.4 L540.5,442.5 L541.7,443.9 L543.0,443.5 L544.2,443.9 L545.4,442.8 L546.6,443.3 L547.9,445.1 L549.1,443.6 L550.3,443.0 L551.5,442.7 L552.7,442.3 L554.0,442.6 L555.2,441.9 L556.4,443.2 L557.6,444.0 L558.9,443.0 L560.1,442.9 L561.3,442.2 L562.5,442.9 L563.8,443.5 L565.0,442.3 L566.2,441.6 L567.4,442.5 L568.6,441.4 L569.9,439.3 L571.1,441.6 L572.3,443.0 L573.5,440.2 L574.8,439.9 L576.0,441.4 L577.2,442.0 L578.4,442.5 L579.6,442.5 L580.9,442.5 L582.1,441.8 L583.3,441.6 L584.5,442.4 L585.8,442.9 L587.0,442.6 L588.2,442.4 L589.4,442.4 L590.7,441.0 L591.9,440.6 L593.1,441.0 L594.3,440.9 L595.5,441.2 L596.8,441.5 L598.0,441.7 L599.2,441.0 L600.4,441.5 L601.7,441.1 L602.9,440.3 L604.1,441.6 L605.3,441.9 L606.6,441.8 L607.8,441.4 L609.0,441.3 L610.2,440.6 L611.4,440.6 L612.7,442.9 L613.9,442.8 L615.1,442.6 L616.3,442.1 L617.6,439.9 L618.8,439.4 L620.0,441.0 L621.2,441.9 L622.5,439.7 L623.7,438.9 L624.9,440.1 L626.1,439.5 L627.3,437.8 L628.6,437.6 L629.8,439.1 L631.0,439.7 L632.2,439.3 L633.5,439.9 L634.7,441.0 L635.9,440.5 L637.1,440.4 L638.3,440.4 L639.6,439.6 L640.8,438.0 L642.0,438.5 L643.2,440.2 L644.5,439.6 L645.7,439.2 L646.9,438.3 L648.1,438.9 L649.4,440.1 L650.6,440.8 L651.8,440.9 L653.0,439.3 L654.2,438.6 L655.5,439.6 L656.7,439.8 L657.9,439.1 L659.1,438.4 L660.4,438.8 L661.6,439.3 L662.8,440.0 L664.0,440.6 L665.3,438.2 L666.5,438.9 L667.7,440.1 L668.9,438.4 L670.1,438.4 L671.4,439.1 L672.6,438.8 L673.8,438.2 L675.0,438.2 L676.3,439.4 L677.5,439.4 L678.7,438.6 L679.9,438.9 L681.1,438.1 L682.4,437.2 L683.6,436.7 L684.8,437.4 L686.0,437.4 L687.3,436.2 L688.5,436.0 L689.7,435.8 L690.9,436.6 L692.2,437.6 L693.4,436.9 L694.6,437.7 L695.8,438.0 L697.0,437.4 L698.3,437.8 L699.5,438.6 L700.7,438.9 L701.9,437.7 L703.2,436.4 L704.4,435.7 L705.6,436.3 L706.8,437.0 L708.1,437.5 L709.3,437.1 L710.5,436.6 L711.7,436.5 L712.9,435.1 L714.2,435.4 L715.4,437.6 L716.6,438.1 L717.8,438.1 L719.1,438.3 L720.3,436.4 L721.5,435.4 L722.7,437.2 L724.0,436.9 L725.2,435.0 L726.4,435.6 L727.6,436.9 L728.8,436.9 L730.1,436.2 L731.3,435.5 L732.5,434.9 L733.7,434.4 L735.0,434.4 L736.2,434.3 L737.4,434.6 L738.6,436.6 L739.9,437.1 L741.1,435.8 L742.3,435.9 L743.5,435.5 L744.7,435.5 L746.0,436.7 L747.2,435.5 L748.4,434.4 L749.6,435.2 L750.9,435.0 L752.1,434.4 L753.3,434.8 L754.5,437.2 L755.7,437.8 L757.0,436.5 L758.2,436.7 L759.4,436.2 L760.6,434.7 L761.9,435.2 L763.1,436.7 L764.3,435.0 L765.5,434.6 L766.8,436.8 L768.0,436.3 L769.2,435.2 L770.4,435.8 L771.6,435.6 L772.9,435.4 L774.1,436.6 L775.3,436.1 L776.5,435.0 L777.8,435.5 L779.0,435.8 L780.2,435.5 L781.4,433.8 L782.7,434.2 L783.9,435.2 L785.1,434.8 L786.3,435.8 L787.5,435.3 L788.8,434.6 L790.0,434.2 L791.2,434.6 L792.4,435.9 L793.7,436.5 L794.9,435.8 L796.1,435.0 L797.3,434.4 L798.5,434.6 L799.8,434.8 L801.0,434.1 L802.2,434.7 L803.4,436.8 L804.7,437.7 L805.9,437.7 L807.1,435.8 L808.3,435.4 L809.6,435.7 L810.8,434.8 L812.0,434.5 L813.2,434.2 L814.4,435.5 L815.7,436.3 L816.9,436.2 L818.1,436.0 L819.3,436.4 L820.6,436.6 L821.8,435.1 L823.0,436.3 L824.2,437.3 L825.5,436.7 L826.7,436.8 L827.9,435.7 L829.1,435.9 L830.3,435.9 L831.6,437.0 L832.8,436.8 L834.0,436.2 L835.2,436.5 L836.5,436.0 L837.7,438.2 L838.9,438.9 L840.1,437.0 L841.4,435.5 L842.6,435.5 L843.8,436.4 L845.0,437.6 L846.2,436.8 L847.5,434.7 L848.7,435.6 L849.9,437.1 L851.1,438.2 L852.4,437.5 L853.6,434.6 L854.8,434.7 L856.0,435.8 L857.2,435.9 L858.5,437.5 L859.7,437.0 L860.9,437.2 L862.1,438.3 L863.4,437.3 L864.6,436.6 L865.8,436.5 L867.0,436.9 L868.3,437.7 L869.5,438.9 L870.7,438.4 L871.9,438.0 L873.1,439.0 L874.4,439.4 L875.6,438.9 L876.8,439.3 L878.0,439.9 L879.3,439.8 L880.5,438.8 L881.7,437.5 L882.9,436.3 L884.2,437.6 L885.4,439.5 L886.6,437.8 L887.8,437.6 L889.0,438.4 L890.3,437.2 L891.5,437.2 L892.7,439.2 L893.9,439.9 L895.2,438.9 L896.4,437.9 L897.6,439.0 L898.8,440.0 L900.1,438.7 L901.3,437.7 L902.5,438.5 L903.7,438.5 L904.9,437.7 L906.2,439.4 L907.4,440.0 L908.6,438.6 L909.8,438.8 L911.1,440.5 L912.3,440.4 L913.5,438.4 L914.7,437.2 L916.0,439.2 L917.2,438.6 L918.4,437.9 L919.6,439.0 L920.8,437.4 L922.1,437.4 L923.3,438.2 L924.5,439.7 L925.7,439.4 L927.0,439.1 L928.2,441.3 L929.4,438.9 L930.6,436.7 L931.8,437.4 L933.1,438.6 L934.3,438.8 L935.5,437.2 L936.7,437.1 L938.0,438.2 L939.2,440.1 L940.4,440.3 L941.6,441.0 L942.9,442.0 L944.1,440.5 L945.3,440.0 L946.5,440.2 L947.7,439.6 L949.0,438.2 L950.2,437.3 L951.4,438.6 L952.6,438.7 L953.9,439.2 L955.1,440.3 L956.3,439.1 L957.5,439.8 L958.8,440.6 L960.0,440.7 L961.2,440.4 L962.4,438.4 L963.6,439.0 L964.9,440.0 L966.1,440.1 L967.3,441.0 L968.5,441.2 L969.8,439.5 L971.0,437.0 L972.2,437.7 L973.4,439.8 L974.6,439.6 L975.9,439.4 L977.1,439.3 L978.3,438.9 L979.5,439.2 L980.8,439.0 L982.0,439.6 L983.2,440.3 L984.4,441.0 L985.7,441.1 L986.9,440.9 L988.1,440.6 L989.3,440.3 L990.5,440.1 L991.8,439.2 L993.0,440.2 L994.2,441.0 L995.4,440.7 L996.7,439.6 L997.9,437.8 L999.1,437.7 L1000.3,439.1 L1001.6,438.6 L1002.8,439.4 L1004.0,439.4" stroke="#000" stroke-width="3.1"/>
</g>
<path d="M123.5,445.2v-9M123.5,280.8v9M245.8,445.2v-9M245.8,280.8v9M368.1,445.2v-9M368.1,280.8v9M490.4,445.2v-9M490.4,280.8v9M612.7,445.2v-9M612.7,280.8v9M735.0,445.2v-9M735.0,280.8v9M857.2,445.2v-9M857.2,280.8v9M979.5,445.2v-9M979.5,280.8v9M123.5,438.3h9M1004.0,438.3h-9M123.5,359.5h9M1004.0,359.5h-9M123.5,280.7h9M1004.0,280.7h-9" stroke="#555555" stroke-width="1.25" fill="none"/>
<rect x="123.5" y="280.8" width="880.5" height="164.39999999999998" stroke="#555555" stroke-width="1.4" fill="none"/>
<g font-family='"Liberation Serif", serif' font-size="31" fill="#262626">
<text x="122.3" y="484.2" text-anchor="middle">0</text>
<text x="244.6" y="484.2" text-anchor="middle">50</text>
<text x="366.9" y="484.2" text-anchor="middle">100</text>
<text x="489.2" y="484.2" text-anchor="middle">150</text>
<text x="611.5" y="484.2" text-anchor="middle">200</text>
<text x="733.8" y="484.2" text-anchor="middle">250</text>
<text x="856.0" y="484.2" text-anchor="middle">300</text>
<text x="978.3" y="484.2" text-anchor="middle">350</text>
<text x="112" y="449.1" text-anchor="end">0</text>
<text x="112" y="370.3" text-anchor="end">10</text>
<text x="112" y="291.5" text-anchor="end">20</text>
</g>
<text x="562.0" y="520.8" text-anchor="middle" font-family='"Liberation Serif", serif' font-size="35" fill="#000">time (s)</text>
<text transform="translate(54.1,405.2) rotate(-90)" font-family='"Liberation Serif", serif' font-size="33" fill="#000">f</text>
<text transform="translate(70.4,392.4) rotate(-90)" font-family='"Liberation Serif", serif' font-size="25" fill="#000">y</text>
<text transform="translate(54.1,369.8) rotate(-90)" font-family='"Liberation Serif", serif' font-size="33" fill="#000">(N)</text>
<text x="125.3" y="276.6" font-family='"Liberation Serif", serif' font-size="34.6" fill="#262626">×</text>
<text x="147.6" y="273.3" font-family='"Liberation Serif", serif' font-size="31" fill="#262626">10</text>
<text x="178.4" y="258.8" font-family='"Liberation Serif", serif' font-size="24" fill="#262626">-3</text>
<clipPath id="c2"><rect x="123.5" y="535.5" width="880.5" height="165.10000000000002"/></clipPath>
<path d="M245.8,535.5V700.6M368.1,535.5V700.6M490.4,535.5V700.6M612.7,535.5V700.6M735.0,535.5V700.6M857.2,535.5V700.6M979.5,535.5V700.6M123.5,548.5H1004.0M123.5,617.9H1004.0M123.5,687.3H1004.0" stroke="#e6e6e6" stroke-width="1" fill="none"/>
<g clip-path="url(#c2)" fill="none" stroke-linejoin="round">
<path d="M123.5,682.3 L124.7,681.5 L125.9,680.8 L127.2,680.0 L128.4,679.2 L129.6,678.5 L130.8,677.7 L132.1,676.9 L133.3,676.2 L134.5,675.4 L135.7,674.6 L137.0,673.8 L138.2,673.1 L139.4,672.3 L140.6,671.5 L141.8,670.7 L143.1,670.0 L144.3,669.2 L145.5,668.4 L146.7,667.6 L148.0,666.8 L149.2,666.0 L150.4,665.3 L151.6,664.5 L152.8,663.7 L154.1,662.9 L155.3,662.1 L156.5,661.3 L157.7,660.5 L159.0,659.7 L160.2,658.9 L161.4,658.1 L162.6,657.4 L163.9,656.6 L165.1,655.8 L166.3,655.0 L167.5,654.2 L168.7,653.4 L170.0,652.6 L171.2,651.8 L172.4,651.0 L173.6,650.2 L174.9,649.4 L176.1,648.6 L177.3,647.8 L178.5,647.0 L179.8,646.2 L181.0,645.4 L182.2,644.7 L183.4,643.9 L184.6,643.1 L185.9,642.3 L187.1,641.5 L188.3,640.7 L189.5,639.9 L190.8,639.1 L192.0,638.3 L193.2,637.5 L194.4,636.8 L195.7,636.0 L196.9,635.2 L198.1,634.4 L199.3,633.6 L200.5,632.8 L201.8,632.1 L203.0,631.3 L204.2,630.5 L205.4,629.7 L206.7,628.9 L207.9,628.2 L209.1,627.4 L210.3,626.6 L211.6,625.9 L212.8,625.1 L214.0,624.3 L215.2,623.6 L216.4,622.8 L217.7,622.0 L218.9,621.3 L220.1,620.5 L221.3,619.8 L222.6,619.0 L223.8,618.2 L225.0,617.5 L226.2,616.7 L227.4,616.0 L228.7,615.3 L229.9,614.5 L231.1,613.8 L232.3,613.0 L233.6,612.3 L234.8,611.6 L236.0,610.8 L237.2,610.1 L238.5,609.4 L239.7,608.7 L240.9,607.9 L242.1,607.2 L243.3,606.5 L244.6,605.8 L245.8,605.1 L247.0,604.4 L248.2,603.7 L249.5,603.0 L250.7,602.3 L251.9,601.6 L253.1,600.9 L254.4,600.2 L255.6,599.5 L256.8,598.9 L258.0,598.2 L259.2,597.5 L260.5,596.8 L261.7,596.2 L262.9,595.5 L264.1,594.8 L265.4,594.2 L266.6,593.5 L267.8,592.9 L269.0,592.2 L270.2,591.6 L271.5,591.0 L272.7,590.3 L273.9,589.7 L275.1,589.1 L276.4,588.5 L277.6,587.8 L278.8,587.2 L280.0,586.6 L281.3,586.0 L282.5,585.4 L283.7,584.8 L284.9,584.2 L286.1,583.6 L287.4,583.0 L288.6,582.4 L289.8,581.9 L291.0,581.3 L292.3,580.7 L293.5,580.2 L294.7,579.6 L295.9,579.0 L297.2,578.5 L298.4,577.9 L299.6,577.4 L300.8,576.8 L302.0,576.3 L303.3,575.8 L304.5,575.2 L305.7,574.7 L306.9,574.2 L308.2,573.7 L309.4,573.2 L310.6,572.7 L311.8,572.2 L313.1,571.7 L314.3,571.2 L315.5,570.7 L316.7,570.2 L317.9,569.7 L319.2,569.2 L320.4,568.7 L321.6,568.3 L322.8,567.8 L324.1,567.3 L325.3,566.9 L326.5,566.4 L327.7,566.0 L328.9,565.5 L330.2,565.1 L331.4,564.7 L332.6,564.2 L333.8,563.8 L335.1,563.4 L336.3,562.9 L337.5,562.5 L338.7,562.1 L340.0,561.7 L341.2,561.3 L342.4,560.9 L343.6,560.5 L344.8,560.1 L346.1,559.7 L347.3,559.4 L348.5,559.0 L349.7,558.6 L351.0,558.2 L352.2,557.9 L353.4,557.5 L354.6,557.2 L355.9,556.8 L357.1,556.5 L358.3,556.1 L359.5,555.8 L360.7,555.5 L362.0,555.1 L363.2,554.8 L364.4,554.5 L365.6,554.2 L366.9,553.9 L368.1,553.6 L369.3,553.3 L370.5,553.0 L371.8,552.7 L373.0,552.4 L374.2,552.1 L375.4,551.8 L376.6,551.6 L377.9,551.3 L379.1,551.0 L380.3,550.8 L381.5,550.5 L382.8,550.3 L384.0,550.0 L385.2,549.8 L386.4,549.6 L387.6,549.3 L388.9,549.1 L390.1,548.9 L391.3,548.7 L392.5,548.5 L393.8,548.2 L395.0,548.0 L396.2,547.8 L397.4,547.6 L398.7,547.5 L399.9,547.3 L401.1,547.1 L402.3,546.9 L403.5,546.7 L404.8,546.6 L406.0,546.4 L407.2,546.2 L408.4,546.1 L409.7,545.9 L410.9,545.8 L412.1,545.6 L413.3,545.5 L414.6,545.3 L415.8,545.2 L417.0,545.0 L418.2,544.9 L419.4,544.8 L420.7,544.7 L421.9,544.5 L423.1,544.4 L424.3,544.3 L425.6,544.2 L426.8,544.1 L428.0,544.0 L429.2,543.9 L430.5,543.8 L431.7,543.7 L432.9,543.6 L434.1,543.5 L435.3,543.4 L436.6,543.4 L437.8,543.3 L439.0,543.2 L440.2,543.1 L441.5,543.1 L442.7,543.0 L443.9,542.9 L445.1,542.9 L446.4,542.8 L447.6,542.7 L448.8,542.7 L450.0,542.6 L451.2,542.6 L452.5,542.5 L453.7,542.5 L454.9,542.4 L456.1,542.4 L457.4,542.4 L458.6,542.3 L459.8,542.3 L461.0,542.3 L462.2,542.2 L463.5,542.2 L464.7,542.2 L465.9,542.1 L467.1,542.1 L468.4,542.1 L469.6,542.1 L470.8,542.1 L472.0,542.0 L473.3,542.0 L474.5,542.0 L475.7,542.0 L476.9,542.0 L478.1,542.0 L479.4,542.0 L480.6,542.0 L481.8,542.0 L483.0,542.0 L484.3,542.0 L485.5,542.0 L486.7,542.0 L487.9,542.0 L489.2,542.0 L490.4,542.0 L491.6,542.0 L492.8,542.0 L494.0,542.0 L495.3,542.0 L496.5,542.0 L497.7,542.0 L498.9,542.1 L500.2,542.1 L501.4,542.1 L502.6,542.1 L503.8,542.1 L505.1,542.1 L506.3,542.1 L507.5,542.2 L508.7,542.2 L509.9,542.2 L511.2,542.2 L512.4,542.2 L513.6,542.2 L514.8,542.3 L516.1,542.3 L517.3,542.3 L518.5,542.3 L519.7,542.3 L520.9,542.4 L522.2,542.4 L523.4,542.4 L524.6,542.4 L525.8,542.4 L527.1,542.5 L528.3,542.5 L529.5,542.5 L530.7,542.5 L532.0,542.6 L533.2,542.6 L534.4,542.6 L535.6,542.6 L536.8,542.6 L538.1,542.7 L539.3,542.7 L540.5,542.7 L541.7,542.7 L543.0,542.8 L544.2,542.8 L545.4,542.8 L546.6,542.8 L547.9,542.9 L549.1,542.9 L550.3,542.9 L551.5,542.9 L552.7,543.0 L554.0,543.0 L555.2,543.0 L556.4,543.0 L557.6,543.1 L558.9,543.1 L560.1,543.1 L561.3,543.1 L562.5,543.2 L563.8,543.2 L565.0,543.2 L566.2,543.3 L567.4,543.3 L568.6,543.3 L569.9,543.3 L571.1,543.4 L572.3,543.4 L573.5,543.4 L574.8,543.5 L576.0,543.5 L577.2,543.5 L578.4,543.5 L579.6,543.6 L580.9,543.6 L582.1,543.6 L583.3,543.7 L584.5,543.7 L585.8,543.7 L587.0,543.8 L588.2,543.8 L589.4,543.8 L590.7,543.8 L591.9,543.9 L593.1,543.9 L594.3,543.9 L595.5,544.0 L596.8,544.0 L598.0,544.0 L599.2,544.1 L600.4,544.1 L601.7,544.1 L602.9,544.2 L604.1,544.2 L605.3,544.2 L606.6,544.3 L607.8,544.3 L609.0,544.3 L610.2,544.4 L611.4,544.4 L612.7,544.4 L613.9,544.5 L615.1,544.5 L616.3,544.5 L617.6,544.6 L618.8,544.6 L620.0,544.6 L621.2,544.7 L622.5,544.7 L623.7,544.7 L624.9,544.8 L626.1,544.8 L627.3,544.8 L628.6,544.9 L629.8,544.9 L631.0,544.9 L632.2,545.0 L633.5,545.0 L634.7,545.0 L635.9,545.1 L637.1,545.1 L638.3,545.1 L639.6,545.2 L640.8,545.2 L642.0,545.2 L643.2,545.3 L644.5,545.3 L645.7,545.3 L646.9,545.4 L648.1,545.4 L649.4,545.4 L650.6,545.5 L651.8,545.5 L653.0,545.5 L654.2,545.6 L655.5,545.6 L656.7,545.6 L657.9,545.7 L659.1,545.7 L660.4,545.7 L661.6,545.8 L662.8,545.8 L664.0,545.8 L665.3,545.9 L666.5,545.9 L667.7,546.0 L668.9,546.0 L670.1,546.0 L671.4,546.1 L672.6,546.1 L673.8,546.1 L675.0,546.2 L676.3,546.2 L677.5,546.2 L678.7,546.3 L679.9,546.3 L681.1,546.3 L682.4,546.4 L683.6,546.4 L684.8,546.4 L686.0,546.5 L687.3,546.5 L688.5,546.5 L689.7,546.6 L690.9,546.6 L692.2,546.6 L693.4,546.7 L694.6,546.7 L695.8,546.7 L697.0,546.8 L698.3,546.8 L699.5,546.8 L700.7,546.9 L701.9,546.9 L703.2,546.9 L704.4,547.0 L705.6,547.0 L706.8,547.0 L708.1,547.1 L709.3,547.1 L710.5,547.1 L711.7,547.2 L712.9,547.2 L714.2,547.2 L715.4,547.3 L716.6,547.3 L717.8,547.3 L719.1,547.4 L720.3,547.4 L721.5,547.4 L722.7,547.5 L724.0,547.5 L725.2,547.5 L726.4,547.6 L727.6,547.6 L728.8,547.6 L730.1,547.7 L731.3,547.7 L732.5,547.7 L733.7,547.8 L735.0,547.8 L736.2,547.8 L737.4,547.8 L738.6,547.9 L739.9,547.9 L741.1,547.9 L742.3,548.0 L743.5,548.0 L744.7,548.0 L746.0,548.1 L747.2,548.1 L748.4,548.1 L749.6,548.2 L750.9,548.2 L752.1,548.2 L753.3,548.2 L754.5,548.3 L755.7,548.3 L757.0,548.3 L758.2,548.4 L759.4,548.4 L760.6,548.4 L761.9,548.4 L763.1,548.5 L764.3,548.5 L765.5,548.5 L766.8,548.5 L768.0,548.6 L769.2,548.6 L770.4,548.6 L771.6,548.7 L772.9,548.7 L774.1,548.7 L775.3,548.7 L776.5,548.8 L777.8,548.8 L779.0,548.8 L780.2,548.8 L781.4,548.9 L782.7,548.9 L783.9,548.9 L785.1,548.9 L786.3,549.0 L787.5,549.0 L788.8,549.0 L790.0,549.0 L791.2,549.1 L792.4,549.1 L793.7,549.1 L794.9,549.1 L796.1,549.1 L797.3,549.2 L798.5,549.2 L799.8,549.2 L801.0,549.2 L802.2,549.3 L803.4,549.3 L804.7,549.3 L805.9,549.3 L807.1,549.3 L808.3,549.4 L809.6,549.4 L810.8,549.4 L812.0,549.4 L813.2,549.4 L814.4,549.5 L815.7,549.5 L816.9,549.5 L818.1,549.5 L819.3,549.5 L820.6,549.5 L821.8,549.6 L823.0,549.6 L824.2,549.6 L825.5,549.6 L826.7,549.6 L827.9,549.7 L829.1,549.7 L830.3,549.7 L831.6,549.7 L832.8,549.7 L834.0,549.7 L835.2,549.7 L836.5,549.8 L837.7,549.8 L838.9,549.8 L840.1,549.8 L841.4,549.8 L842.6,549.8 L843.8,549.8 L845.0,549.8 L846.2,549.9 L847.5,549.9 L848.7,549.9 L849.9,549.9 L851.1,549.9 L852.4,549.9 L853.6,549.9 L854.8,549.9 L856.0,549.9 L857.2,549.9 L858.5,550.0 L859.7,550.0 L860.9,550.0 L862.1,550.0 L863.4,550.0 L864.6,550.0 L865.8,550.0 L867.0,550.0 L868.3,550.0 L869.5,550.0 L870.7,550.0 L871.9,550.0 L873.1,550.0 L874.4,550.0 L875.6,550.0 L876.8,550.0 L878.0,550.0 L879.3,550.0 L880.5,550.0 L881.7,550.0 L882.9,550.1 L884.2,550.1 L885.4,550.1 L886.6,550.1 L887.8,550.1 L889.0,550.1 L890.3,550.1 L891.5,550.1 L892.7,550.0 L893.9,550.0 L895.2,550.0 L896.4,550.0 L897.6,550.0 L898.8,550.0 L900.1,550.0 L901.3,550.0 L902.5,550.0 L903.7,550.0 L904.9,550.0 L906.2,550.0 L907.4,550.0 L908.6,550.0 L909.8,550.0 L911.1,550.0 L912.3,550.0 L913.5,550.0 L914.7,550.0 L916.0,549.9 L917.2,549.9 L918.4,549.9 L919.6,549.9 L920.8,549.9 L922.1,549.9 L923.3,549.9 L924.5,549.9 L925.7,549.8 L927.0,549.8 L928.2,549.8 L929.4,549.8 L930.6,549.8 L931.8,549.8 L933.1,549.8 L934.3,549.7 L935.5,549.7 L936.7,549.7 L938.0,549.7 L939.2,549.7 L940.4,549.7 L941.6,549.6 L942.9,549.6 L944.1,549.6 L945.3,549.6 L946.5,549.6 L947.7,549.5 L949.0,549.5 L950.2,549.5 L951.4,549.5 L952.6,549.4 L953.9,549.4 L955.1,549.4 L956.3,549.4 L957.5,549.4 L958.8,549.3 L960.0,549.3 L961.2,549.3 L962.4,549.2 L963.6,549.2 L964.9,549.2 L966.1,549.2 L967.3,549.1 L968.5,549.1 L969.8,549.1 L971.0,549.0 L972.2,549.0 L973.4,549.0 L974.6,548.9 L975.9,548.9 L977.1,548.9 L978.3,548.8 L979.5,548.8 L980.8,548.8 L982.0,548.7 L983.2,548.7 L984.4,548.7 L985.7,548.6 L986.9,548.6 L988.1,548.6 L989.3,548.5 L990.5,548.5 L991.8,548.4 L993.0,548.4 L994.2,548.4 L995.4,548.3 L996.7,548.3 L997.9,548.2 L999.1,548.2 L1000.3,548.1 L1001.6,548.1 L1002.8,548.0 L1004.0,548.0" stroke="#0000ff" stroke-width="4.2"/>
<path d="M123.5,682.3 L124.7,681.5 L125.9,680.8 L127.2,680.0 L128.4,679.2 L129.6,678.5 L130.8,677.7 L132.1,676.9 L133.3,676.2 L134.5,675.4 L135.7,674.6 L137.0,673.8 L138.2,673.1 L139.4,672.3 L140.6,671.5 L141.8,670.7 L143.1,670.0 L144.3,669.2 L145.5,668.4 L146.7,667.6 L148.0,666.8 L149.2,666.0 L150.4,665.3 L151.6,664.5 L152.8,663.7 L154.1,662.9 L155.3,662.1 L156.5,661.3 L157.7,660.5 L159.0,659.7 L160.2,658.9 L161.4,658.1 L162.6,657.4 L163.9,656.6 L165.1,655.8 L166.3,655.0 L167.5,654.2 L168.7,653.4 L170.0,652.6 L171.2,651.8 L172.4,651.0 L173.6,650.2 L174.9,649.4 L176.1,648.6 L177.3,647.8 L178.5,647.0 L179.8,646.2 L181.0,645.4 L182.2,644.7 L183.4,643.9 L184.6,643.1 L185.9,642.3 L187.1,641.5 L188.3,640.7 L189.5,639.9 L190.8,639.1 L192.0,638.3 L193.2,637.5 L194.4,636.8 L195.7,636.0 L196.9,635.2 L198.1,634.4 L199.3,633.6 L200.5,632.8 L201.8,632.1 L203.0,631.3 L204.2,630.5 L205.4,629.7 L206.7,628.9 L207.9,628.2 L209.1,627.4 L210.3,626.6 L211.6,625.9 L212.8,625.1 L214.0,624.3 L215.2,623.6 L216.4,622.8 L217.7,622.0 L218.9,621.3 L220.1,620.5 L221.3,619.8 L222.6,619.0 L223.8,618.2 L225.0,617.5 L226.2,616.7 L227.4,616.0 L228.7,615.3 L229.9,614.5 L231.1,613.8 L232.3,613.0 L233.6,612.3 L234.8,611.6 L236.0,610.8 L237.2,610.1 L238.5,609.4 L239.7,608.7 L240.9,607.9 L242.1,607.2 L243.3,606.5 L244.6,605.8 L245.8,605.1 L247.0,604.4 L248.2,603.7 L249.5,603.0 L250.7,602.3 L251.9,601.6 L253.1,600.9 L254.4,600.2 L255.6,599.5 L256.8,598.9 L258.0,598.2 L259.2,597.5 L260.5,596.8 L261.7,596.2 L262.9,595.5 L264.1,594.8 L265.4,594.2 L266.6,593.5 L267.8,592.9 L269.0,592.2 L270.2,591.6 L271.5,591.0 L272.7,590.3 L273.9,589.7 L275.1,589.1 L276.4,588.5 L277.6,587.8 L278.8,587.2 L280.0,586.6 L281.3,586.0 L282.5,585.4 L283.7,584.8 L284.9,584.2 L286.1,583.6 L287.4,583.0 L288.6,582.4 L289.8,581.9 L291.0,581.3 L292.3,580.7 L293.5,580.2 L294.7,579.6 L295.9,579.0 L297.2,578.5 L298.4,577.9 L299.6,577.4 L300.8,576.8 L302.0,576.3 L303.3,575.8 L304.5,575.2 L305.7,574.7 L306.9,574.2 L308.2,573.7 L309.4,573.2 L310.6,572.7 L311.8,572.2 L313.1,571.7 L314.3,571.2 L315.5,570.7 L316.7,570.2 L317.9,569.7 L319.2,569.2 L320.4,568.7 L321.6,568.3 L322.8,567.8 L324.1,567.3 L325.3,566.9 L326.5,566.4 L327.7,566.0 L328.9,565.5 L330.2,565.1 L331.4,564.7 L332.6,564.2 L333.8,563.8 L335.1,563.4 L336.3,562.9 L337.5,562.5 L338.7,562.1 L340.0,561.7 L341.2,561.3 L342.4,560.9 L343.6,560.5 L344.8,560.1 L346.1,559.7 L347.3,559.4 L348.5,559.0 L349.7,558.6 L351.0,558.2 L352.2,557.9 L353.4,557.5 L354.6,557.2 L355.9,556.8 L357.1,556.5 L358.3,556.1 L359.5,555.8 L360.7,555.5 L362.0,555.1 L363.2,554.8 L364.4,554.5 L365.6,554.2 L366.9,553.9 L368.1,553.6 L369.3,553.3 L370.5,553.0 L371.8,552.7 L373.0,552.4 L374.2,552.1 L375.4,551.8 L376.6,551.6 L377.9,551.3 L379.1,551.0 L380.3,550.8 L381.5,550.5 L382.8,550.3 L384.0,550.0 L385.2,549.8 L386.4,549.6 L387.6,549.3 L388.9,549.1 L390.1,548.9 L391.3,548.7 L392.5,548.5 L393.8,548.2 L395.0,548.0 L396.2,547.8 L397.4,547.6 L398.7,547.5 L399.9,547.3 L401.1,547.1 L402.3,546.9 L403.5,546.7 L404.8,546.6 L406.0,546.4 L407.2,546.2 L408.4,546.1 L409.7,545.9 L410.9,545.8 L412.1,545.6 L413.3,545.5 L414.6,545.3 L415.8,545.2 L417.0,545.0 L418.2,544.9 L419.4,544.8 L420.7,544.7 L421.9,544.5 L423.1,544.4 L424.3,544.3 L425.6,544.2 L426.8,544.1 L428.0,544.0 L429.2,543.9 L430.5,543.8 L431.7,543.7 L432.9,543.6 L434.1,543.5 L435.3,543.4 L436.6,543.4 L437.8,543.3 L439.0,543.2 L440.2,543.1 L441.5,543.1 L442.7,543.0 L443.9,542.9 L445.1,542.9 L446.4,542.8 L447.6,542.7 L448.8,542.7 L450.0,542.6 L451.2,542.6 L452.5,542.5 L453.7,542.5 L454.9,542.4 L456.1,542.4 L457.4,542.4 L458.6,542.3 L459.8,542.3 L461.0,542.3 L462.2,542.2 L463.5,542.2 L464.7,542.2 L465.9,542.1 L467.1,542.1 L468.4,542.1 L469.6,542.1 L470.8,542.1 L472.0,542.0 L473.3,542.0 L474.5,542.0 L475.7,542.0 L476.9,542.0 L478.1,542.0 L479.4,542.0 L480.6,542.0 L481.8,542.0 L483.0,542.0 L484.3,542.0 L485.5,542.0 L486.7,542.0 L487.9,542.0 L489.2,542.0 L490.4,542.0 L491.6,542.0 L492.8,542.0 L494.0,542.0 L495.3,542.0 L496.5,542.0 L497.7,542.0 L498.9,542.1 L500.2,542.1 L501.4,542.1 L502.6,542.1 L503.8,542.1 L505.1,542.1 L506.3,542.1 L507.5,542.2 L508.7,542.2 L509.9,542.2 L511.2,542.2 L512.4,542.2 L513.6,542.2 L514.8,542.3 L516.1,542.3 L517.3,542.3 L518.5,542.3 L519.7,542.3 L520.9,542.4 L522.2,542.4 L523.4,542.4 L524.6,542.4 L525.8,542.4 L527.1,542.5 L528.3,542.5 L529.5,542.5 L530.7,542.5 L532.0,542.6 L533.2,542.6 L534.4,542.6 L535.6,542.6 L536.8,542.6 L538.1,542.7 L539.3,542.7 L540.5,542.7 L541.7,542.7 L543.0,542.8 L544.2,542.8 L545.4,542.8 L546.6,542.8 L547.9,542.9 L549.1,542.9 L550.3,542.9 L551.5,542.9 L552.7,543.0 L554.0,543.0 L555.2,543.0 L556.4,543.0 L557.6,543.1 L558.9,543.1 L560.1,543.1 L561.3,543.1 L562.5,543.2 L563.8,543.2 L565.0,543.2 L566.2,543.3 L567.4,543.3 L568.6,543.3 L569.9,543.3 L571.1,543.4 L572.3,543.4 L573.5,543.4 L574.8,543.5 L576.0,543.5 L577.2,543.5 L578.4,543.5 L579.6,543.6 L580.9,543.6 L582.1,543.6 L583.3,543.7 L584.5,543.7 L585.8,543.7 L587.0,543.8 L588.2,543.8 L589.4,543.8 L590.7,543.8 L591.9,543.9 L593.1,543.9 L594.3,543.9 L595.5,544.0 L596.8,544.0 L598.0,544.0 L599.2,544.1 L600.4,544.1 L601.7,544.1 L602.9,544.2 L604.1,544.2 L605.3,544.2 L606.6,544.3 L607.8,544.3 L609.0,544.3 L610.2,544.4 L611.4,544.4 L612.7,544.4 L613.9,544.5 L615.1,544.5 L616.3,544.5 L617.6,544.6 L618.8,544.6 L620.0,544.6 L621.2,544.7 L622.5,544.7 L623.7,544.7 L624.9,544.8 L626.1,544.8 L627.3,544.8 L628.6,544.9 L629.8,544.9 L631.0,544.9 L632.2,545.0 L633.5,545.0 L634.7,545.0 L635.9,545.1 L637.1,545.1 L638.3,545.1 L639.6,545.2 L640.8,545.2 L642.0,545.2 L643.2,545.3 L644.5,545.3 L645.7,545.3 L646.9,545.4 L648.1,545.4 L649.4,545.4 L650.6,545.5 L651.8,545.5 L653.0,545.5 L654.2,545.6 L655.5,545.6 L656.7,545.6 L657.9,545.7 L659.1,545.7 L660.4,545.7 L661.6,545.8 L662.8,545.8 L664.0,545.8 L665.3,545.9 L666.5,545.9 L667.7,546.0 L668.9,546.0 L670.1,546.0 L671.4,546.1 L672.6,546.1 L673.8,546.1 L675.0,546.2 L676.3,546.2 L677.5,546.2 L678.7,546.3 L679.9,546.3 L681.1,546.3 L682.4,546.4 L683.6,546.4 L684.8,546.4 L686.0,546.5 L687.3,546.5 L688.5,546.5 L689.7,546.6 L690.9,546.6 L692.2,546.6 L693.4,546.7 L694.6,546.7 L695.8,546.7 L697.0,546.8 L698.3,546.8 L699.5,546.8 L700.7,546.9 L701.9,546.9 L703.2,546.9 L704.4,547.0 L705.6,547.0 L706.8,547.0 L708.1,547.1 L709.3,547.1 L710.5,547.1 L711.7,547.2 L712.9,547.2 L714.2,547.2 L715.4,547.3 L716.6,547.3 L717.8,547.3 L719.1,547.4 L720.3,547.4 L721.5,547.4 L722.7,547.5 L724.0,547.5 L725.2,547.5 L726.4,547.6 L727.6,547.6 L728.8,547.6 L730.1,547.7 L731.3,547.7 L732.5,547.7 L733.7,547.8 L735.0,547.8 L736.2,547.8 L737.4,547.8 L738.6,547.9 L739.9,547.9 L741.1,547.9 L742.3,548.0 L743.5,548.0 L744.7,548.0 L746.0,548.1 L747.2,548.1 L748.4,548.1 L749.6,548.2 L750.9,548.2 L752.1,548.2 L753.3,548.2 L754.5,548.3 L755.7,548.3 L757.0,548.3 L758.2,548.4 L759.4,548.4 L760.6,548.4 L761.9,548.4 L763.1,548.5 L764.3,548.5 L765.5,548.5 L766.8,548.5 L768.0,548.6 L769.2,548.6 L770.4,548.6 L771.6,548.7 L772.9,548.7 L774.1,548.7 L775.3,548.7 L776.5,548.8 L777.8,548.8 L779.0,548.8 L780.2,548.8 L781.4,548.9 L782.7,548.9 L783.9,548.9 L785.1,548.9 L786.3,549.0 L787.5,549.0 L788.8,549.0 L790.0,549.0 L791.2,549.1 L792.4,549.1 L793.7,549.1 L794.9,549.1 L796.1,549.1 L797.3,549.2 L798.5,549.2 L799.8,549.2 L801.0,549.2 L802.2,549.3 L803.4,549.3 L804.7,549.3 L805.9,549.3 L807.1,549.3 L808.3,549.4 L809.6,549.4 L810.8,549.4 L812.0,549.4 L813.2,549.4 L814.4,549.5 L815.7,549.5 L816.9,549.5 L818.1,549.5 L819.3,549.5 L820.6,549.5 L821.8,549.6 L823.0,549.6 L824.2,549.6 L825.5,549.6 L826.7,549.6 L827.9,549.7 L829.1,549.7 L830.3,549.7 L831.6,549.7 L832.8,549.7 L834.0,549.7 L835.2,549.7 L836.5,549.8 L837.7,549.8 L838.9,549.8 L840.1,549.8 L841.4,549.8 L842.6,549.8 L843.8,549.8 L845.0,549.8 L846.2,549.9 L847.5,549.9 L848.7,549.9 L849.9,549.9 L851.1,549.9 L852.4,549.9 L853.6,549.9 L854.8,549.9 L856.0,549.9 L857.2,549.9 L858.5,550.0 L859.7,550.0 L860.9,550.0 L862.1,550.0 L863.4,550.0 L864.6,550.0 L865.8,550.0 L867.0,550.0 L868.3,550.0 L869.5,550.0 L870.7,550.0 L871.9,550.0 L873.1,550.0 L874.4,550.0 L875.6,550.0 L876.8,550.0 L878.0,550.0 L879.3,550.0 L880.5,550.0 L881.7,550.0 L882.9,550.1 L884.2,550.1 L885.4,550.1 L886.6,550.1 L887.8,550.1 L889.0,550.1 L890.3,550.1 L891.5,550.1 L892.7,550.0 L893.9,550.0 L895.2,550.0 L896.4,550.0 L897.6,550.0 L898.8,550.0 L900.1,550.0 L901.3,550.0 L902.5,550.0 L903.7,550.0 L904.9,550.0 L906.2,550.0 L907.4,550.0 L908.6,550.0 L909.8,550.0 L911.1,550.0 L912.3,550.0 L913.5,550.0 L914.7,550.0 L916.0,549.9 L917.2,549.9 L918.4,549.9 L919.6,549.9 L920.8,549.9 L922.1,549.9 L923.3,549.9 L924.5,549.9 L925.7,549.8 L927.0,549.8 L928.2,549.8 L929.4,549.8 L930.6,549.8 L931.8,549.8 L933.1,549.8 L934.3,549.7 L935.5,549.7 L936.7,549.7 L938.0,549.7 L939.2,549.7 L940.4,549.7 L941.6,549.6 L942.9,549.6 L944.1,549.6 L945.3,549.6 L946.5,549.6 L947.7,549.5 L949.0,549.5 L950.2,549.5 L951.4,549.5 L952.6,549.4 L953.9,549.4 L955.1,549.4 L956.3,549.4 L957.5,549.4 L958.8,549.3 L960.0,549.3 L961.2,549.3 L962.4,549.2 L963.6,549.2 L964.9,549.2 L966.1,549.2 L967.3,549.1 L968.5,549.1 L969.8,549.1 L971.0,549.0 L972.2,549.0 L973.4,549.0 L974.6,548.9 L975.9,548.9 L977.1,548.9 L978.3,548.8 L979.5,548.8 L980.8,548.8 L982.0,548.7 L983.2,548.7 L984.4,548.7 L985.7,548.6 L986.9,548.6 L988.1,548.6 L989.3,548.5 L990.5,548.5 L991.8,548.4 L993.0,548.4 L994.2,548.4 L995.4,548.3 L996.7,548.3 L997.9,548.2 L999.1,548.2 L1000.3,548.1 L1001.6,548.1 L1002.8,548.0 L1004.0,548.0" stroke="#ff0000" stroke-width="4.2" stroke-dasharray="15 3"/>
<path d="M123.5,700.7 L124.7,698.9 L125.9,696.7 L127.2,694.8 L128.4,692.8 L129.6,691.1 L130.8,689.2 L132.1,687.6 L133.3,686.2 L134.5,684.7 L135.7,683.3 L137.0,681.2 L138.2,679.5 L139.4,678.1 L140.6,676.5 L141.8,675.2 L143.1,673.8 L144.3,672.3 L145.5,670.9 L146.7,669.3 L148.0,667.8 L149.2,666.7 L150.4,665.6 L151.6,664.2 L152.8,662.8 L154.1,661.5 L155.3,659.9 L156.5,658.8 L157.7,658.0 L159.0,657.0 L160.2,656.1 L161.4,655.1 L162.6,654.1 L163.9,653.0 L165.1,651.9 L166.3,650.8 L167.5,649.9 L168.7,649.1 L170.0,648.3 L171.2,647.2 L172.4,645.5 L173.6,644.6 L174.9,643.6 L176.1,643.0 L177.3,642.6 L178.5,642.2 L179.8,640.2 L181.0,640.3 L182.2,640.2 L183.4,638.2 L184.6,637.7 L185.9,637.4 L187.1,636.3 L188.3,636.1 L189.5,635.8 L190.8,635.1 L192.0,634.8 L193.2,633.9 L194.4,632.8 L195.7,631.6 L196.9,630.5 L198.1,630.3 L199.3,628.7 L200.5,626.7 L201.8,626.3 L203.0,626.0 L204.2,625.5 L205.4,624.1 L206.7,622.9 L207.9,623.0 L209.1,621.9 L210.3,618.9 L211.6,619.1 L212.8,619.1 L214.0,617.2 L215.2,616.8 L216.4,615.5 L217.7,615.1 L218.9,614.8 L220.1,612.8 L221.3,612.2 L222.6,612.3 L223.8,611.4 L225.0,610.7 L226.2,609.4 L227.4,609.0 L228.7,608.6 L229.9,608.2 L231.1,607.7 L232.3,606.6 L233.6,607.5 L234.8,606.9 L236.0,605.7 L237.2,605.4 L238.5,603.7 L239.7,603.5 L240.9,604.2 L242.1,602.6 L243.3,601.6 L244.6,601.1 L245.8,600.6 L247.0,601.2 L248.2,600.9 L249.5,599.6 L250.7,598.7 L251.9,598.8 L253.1,598.8 L254.4,598.4 L255.6,598.2 L256.8,596.9 L258.0,596.2 L259.2,597.1 L260.5,596.8 L261.7,595.5 L262.9,594.6 L264.1,594.5 L265.4,594.5 L266.6,594.0 L267.8,593.9 L269.0,594.0 L270.2,592.3 L271.5,591.4 L272.7,591.0 L273.9,589.6 L275.1,588.9 L276.4,588.8 L277.6,587.5 L278.8,586.5 L280.0,587.0 L281.3,586.3 L282.5,585.3 L283.7,585.4 L284.9,584.9 L286.1,583.9 L287.4,584.2 L288.6,583.5 L289.8,582.1 L291.0,581.6 L292.3,581.6 L293.5,581.0 L294.7,579.7 L295.9,578.9 L297.2,578.9 L298.4,578.1 L299.6,577.6 L300.8,577.5 L302.0,575.9 L303.3,575.7 L304.5,576.0 L305.7,574.8 L306.9,574.3 L308.2,574.4 L309.4,573.7 L310.6,572.7 L311.8,573.3 L313.1,573.7 L314.3,572.7 L315.5,572.4 L316.7,571.9 L317.9,571.3 L319.2,570.3 L320.4,569.9 L321.6,569.4 L322.8,568.4 L324.1,568.2 L325.3,567.8 L326.5,566.2 L327.7,565.6 L328.9,566.1 L330.2,565.7 L331.4,565.3 L332.6,564.7 L333.8,563.4 L335.1,563.4 L336.3,563.4 L337.5,562.1 L338.7,561.9 L340.0,561.9 L341.2,561.8 L342.4,561.9 L343.6,561.4 L344.8,559.8 L346.1,559.6 L347.3,560.6 L348.5,560.5 L349.7,560.3 L351.0,559.7 L352.2,559.5 L353.4,558.8 L354.6,558.8 L355.9,559.0 L357.1,558.9 L358.3,559.1 L359.5,559.7 L360.7,559.9 L362.0,559.0 L363.2,558.8 L364.4,559.4 L365.6,558.6 L366.9,557.5 L368.1,557.9" stroke="#000" stroke-width="3.8"/>
<path d="M368.1,557.9 L369.3,557.4 L370.5,556.9 L371.8,556.0 L373.0,556.4 L374.2,557.0 L375.4,555.6 L376.6,554.5 L377.9,554.7 L379.1,555.0 L380.3,555.1 L381.5,554.6 L382.8,553.1 L384.0,553.8 L385.2,553.6 L386.4,552.3 L387.6,553.8 L388.9,553.9 L390.1,554.6 L391.3,556.4 L392.5,556.2 L393.8,555.0 L395.0,553.9 L396.2,553.6 L397.4,552.8 L398.7,553.4 L399.9,552.5 L401.1,551.4 L402.3,551.6 L403.5,550.3 L404.8,550.1 L406.0,550.2 L407.2,549.6 L408.4,548.2 L409.7,546.5 L410.9,545.7 L412.1,546.5 L413.3,547.1 L414.6,546.7 L415.8,545.4 L417.0,545.9 L418.2,545.0 L419.4,543.6 L420.7,544.8 L421.9,543.9 L423.1,542.4 L424.3,542.1 L425.6,541.8 L426.8,541.7 L428.0,541.3 L429.2,540.2 L430.5,540.9 L431.7,540.5 L432.9,540.0 L434.1,540.7 L435.3,541.2 L436.6,541.2 L437.8,539.7 L439.0,540.1 L440.2,539.9 L441.5,538.4 L442.7,538.4 L443.9,540.0 L445.1,540.0 L446.4,537.7 L447.6,538.0 L448.8,538.2 L450.0,539.1 L451.2,538.5 L452.5,537.1 L453.7,536.8 L454.9,537.6 L456.1,537.6 L457.4,536.3 L458.6,536.2 L459.8,536.7 L461.0,537.7 L462.2,535.4 L463.5,535.6 L464.7,537.8 L465.9,537.5 L467.1,537.9 L468.4,537.0 L469.6,535.1 L470.8,536.7 L472.0,539.4 L473.3,538.2 L474.5,536.3 L475.7,536.7 L476.9,536.8 L478.1,538.2 L479.4,539.3 L480.6,539.9 L481.8,540.9 L483.0,539.3 L484.3,538.9 L485.5,538.1 L486.7,537.6 L487.9,539.8 L489.2,539.4 L490.4,537.7 L491.6,538.0 L492.8,540.3 L494.0,540.5 L495.3,538.7 L496.5,539.3 L497.7,541.0 L498.9,539.9 L500.2,539.3 L501.4,540.9 L502.6,541.3 L503.8,541.1 L505.1,540.7 L506.3,540.1 L507.5,539.5 L508.7,539.1 L509.9,541.1 L511.2,541.3 L512.4,539.6 L513.6,539.6 L514.8,539.5 L516.1,540.2 L517.3,541.7 L518.5,540.6 L519.7,540.7 L520.9,543.0 L522.2,541.5 L523.4,540.5 L524.6,541.5 L525.8,542.0 L527.1,542.8 L528.3,542.6 L529.5,542.0 L530.7,540.9 L532.0,542.3 L533.2,542.1 L534.4,541.3 L535.6,542.7 L536.8,541.3 L538.1,540.7 L539.3,542.3 L540.5,541.0 L541.7,540.5 L543.0,541.7 L544.2,541.0 L545.4,540.2 L546.6,540.7 L547.9,541.1 L549.1,541.3 L550.3,541.3 L551.5,541.3 L552.7,542.5 L554.0,540.6 L555.2,540.2 L556.4,541.5 L557.6,540.2 L558.9,540.1 L560.1,542.3 L561.3,542.1 L562.5,542.4 L563.8,542.2 L565.0,540.5 L566.2,541.8 L567.4,543.2 L568.6,542.8 L569.9,542.4 L571.1,543.3 L572.3,542.9 L573.5,543.8 L574.8,544.6 L576.0,543.4 L577.2,543.4 L578.4,542.9 L579.6,543.7 L580.9,543.6 L582.1,542.9 L583.3,543.8 L584.5,544.8 L585.8,545.2 L587.0,544.0 L588.2,544.0 L589.4,544.2 L590.7,542.8 L591.9,542.2 L593.1,541.9 L594.3,543.0 L595.5,545.0 L596.8,544.1 L598.0,543.1 L599.2,543.1 L600.4,543.4 L601.7,543.4 L602.9,542.9 L604.1,543.3 L605.3,543.6 L606.6,544.0 L607.8,544.2 L609.0,544.4 L610.2,543.9 L611.4,544.5 L612.7,544.1 L613.9,543.9 L615.1,544.5 L616.3,544.5 L617.6,545.5 L618.8,544.0 L620.0,544.1 L621.2,546.6 L622.5,547.0 L623.7,546.3 L624.9,544.3 L626.1,544.0 L627.3,545.0 L628.6,545.9 L629.8,546.4 L631.0,545.2 L632.2,544.3 L633.5,545.3 L634.7,546.2 L635.9,545.6 L637.1,546.8 L638.3,547.1 L639.6,546.6 L640.8,548.3 L642.0,547.8 L643.2,545.8 L644.5,546.6 L645.7,548.0 L646.9,546.6 L648.1,545.5 L649.4,545.9 L650.6,545.1 L651.8,546.3 L653.0,546.8 L654.2,546.6 L655.5,547.3 L656.7,547.2 L657.9,547.2 L659.1,546.4 L660.4,546.4 L661.6,547.3 L662.8,547.7 L664.0,547.3 L665.3,547.8 L666.5,548.5 L667.7,547.9 L668.9,548.0 L670.1,548.1 L671.4,548.1 L672.6,546.6 L673.8,545.2 L675.0,546.4 L676.3,547.4 L677.5,546.2 L678.7,545.9 L679.9,547.6 L681.1,547.6 L682.4,547.4 L683.6,546.6 L684.8,546.8 L686.0,546.4 L687.3,547.0 L688.5,548.0 L689.7,548.1 L690.9,547.4 L692.2,546.9 L693.4,548.3 L694.6,547.4 L695.8,546.4 L697.0,547.9 L698.3,549.1 L699.5,549.3 L700.7,549.0 L701.9,548.0 L703.2,548.4 L704.4,548.8 L705.6,548.9 L706.8,548.9 L708.1,548.3 L709.3,546.6 L710.5,548.4 L711.7,549.6 L712.9,548.5 L714.2,548.1 L715.4,548.5 L716.6,549.0 L717.8,549.0 L719.1,548.4 L720.3,547.6 L721.5,548.2 L722.7,548.0 L724.0,548.1 L725.2,549.5 L726.4,548.9 L727.6,547.6 L728.8,548.1 L730.1,547.6 L731.3,546.6 L732.5,548.2 L733.7,549.6 L735.0,547.7 L736.2,546.1 L737.4,547.8 L738.6,549.7 L739.9,549.6 L741.1,549.1 L742.3,549.8 L743.5,549.5 L744.7,549.2 L746.0,550.2 L747.2,548.6 L748.4,548.2 L749.6,548.9 L750.9,548.0 L752.1,547.4 L753.3,548.1 L754.5,548.7 L755.7,549.0 L757.0,547.8 L758.2,546.8 L759.4,548.8 L760.6,549.3 L761.9,548.0 L763.1,547.7 L764.3,546.9 L765.5,546.3 L766.8,548.0 L768.0,549.1 L769.2,549.7 L770.4,549.5 L771.6,548.4 L772.9,546.7 L774.1,546.8 L775.3,550.3 L776.5,550.9 L777.8,549.3 L779.0,549.7 L780.2,550.5 L781.4,549.9 L782.7,549.0 L783.9,548.9 L785.1,549.9 L786.3,549.2 L787.5,549.0 L788.8,550.0 L790.0,550.6 L791.2,550.9 L792.4,549.5 L793.7,550.1 L794.9,550.7 L796.1,549.0 L797.3,549.3 L798.5,549.7 L799.8,550.3 L801.0,549.6 L802.2,548.0 L803.4,548.9 L804.7,551.0 L805.9,552.0 L807.1,550.1 L808.3,548.2 L809.6,548.7 L810.8,549.1 L812.0,549.9 L813.2,551.0 L814.4,550.6 L815.7,550.2 L816.9,551.4 L818.1,551.1 L819.3,549.1 L820.6,550.7 L821.8,552.7 L823.0,551.7 L824.2,551.3 L825.5,553.3 L826.7,552.3 L827.9,550.6 L829.1,551.6 L830.3,550.2 L831.6,549.8 L832.8,552.0 L834.0,552.1 L835.2,552.3 L836.5,553.0 L837.7,552.0 L838.9,551.9 L840.1,552.5 L841.4,550.9 L842.6,550.0 L843.8,550.7 L845.0,550.9 L846.2,551.2 L847.5,550.5 L848.7,550.8 L849.9,550.6 L851.1,551.2 L852.4,552.7 L853.6,553.0 L854.8,553.0 L856.0,551.6 L857.2,550.3 L858.5,551.0 L859.7,552.0 L860.9,551.7 L862.1,552.2 L863.4,552.7 L864.6,552.0 L865.8,552.3 L867.0,552.2 L868.3,550.8 L869.5,551.2 L870.7,551.9 L871.9,552.3 L873.1,550.1 L874.4,549.9 L875.6,550.0 L876.8,548.5 L878.0,549.7 L879.3,550.9 L880.5,549.7 L881.7,547.5 L882.9,548.8 L884.2,550.2 L885.4,548.6 L886.6,548.0 L887.8,547.2 L889.0,547.7 L890.3,548.7 L891.5,549.0 L892.7,547.8 L893.9,547.3 L895.2,550.3 L896.4,549.8 L897.6,548.1 L898.8,546.5 L900.1,546.6 L901.3,547.9 L902.5,547.1 L903.7,545.8 L904.9,546.2 L906.2,546.5 L907.4,546.0 L908.6,546.9 L909.8,547.1 L911.1,546.8 L912.3,547.4 L913.5,546.5 L914.7,546.7 L916.0,546.7 L917.2,544.9 L918.4,545.8 L919.6,547.0 L920.8,547.0 L922.1,546.0 L923.3,545.3 L924.5,545.4 L925.7,545.1 L927.0,545.7 L928.2,546.2 L929.4,546.9 L930.6,546.5 L931.8,545.2 L933.1,546.1 L934.3,545.3 L935.5,544.5 L936.7,547.4 L938.0,547.8 L939.2,546.8 L940.4,546.1 L941.6,543.3 L942.9,544.4 L944.1,546.2 L945.3,546.0 L946.5,545.8 L947.7,545.2 L949.0,544.6 L950.2,545.8 L951.4,545.7 L952.6,545.7 L953.9,546.7 L955.1,545.2 L956.3,545.0 L957.5,546.6 L958.8,547.7 L960.0,547.4 L961.2,547.1 L962.4,546.0 L963.6,547.0 L964.9,547.6 L966.1,546.3 L967.3,546.3 L968.5,546.6 L969.8,546.0 L971.0,546.1 L972.2,546.7 L973.4,546.7 L974.6,546.1 L975.9,548.0 L977.1,548.5 L978.3,547.4 L979.5,548.7 L980.8,549.3 L982.0,550.5 L983.2,550.2 L984.4,549.4 L985.7,548.9 L986.9,549.5 L988.1,548.9 L989.3,547.7 L990.5,549.0 L991.8,549.8 L993.0,550.2 L994.2,550.6 L995.4,550.4 L996.7,549.6 L997.9,549.4 L999.1,550.4 L1000.3,550.5 L1001.6,550.1 L1002.8,549.8 L1004.0,547.8" stroke="#000" stroke-width="3.1"/>
</g>
<path d="M123.5,700.6v-9M123.5,535.5v9M245.8,700.6v-9M245.8,535.5v9M368.1,700.6v-9M368.1,535.5v9M490.4,700.6v-9M490.4,535.5v9M612.7,700.6v-9M612.7,535.5v9M735.0,700.6v-9M735.0,535.5v9M857.2,700.6v-9M857.2,535.5v9M979.5,700.6v-9M979.5,535.5v9M123.5,548.5h9M1004.0,548.5h-9M123.5,617.9h9M1004.0,617.9h-9M123.5,687.3h9M1004.0,687.3h-9" stroke="#555555" stroke-width="1.25" fill="none"/>
<rect x="123.5" y="535.5" width="880.5" height="165.10000000000002" stroke="#555555" stroke-width="1.4" fill="none"/>
<g font-family='"Liberation Serif", serif' font-size="31" fill="#262626">
<text x="122.3" y="739.6" text-anchor="middle">0</text>
<text x="244.6" y="739.6" text-anchor="middle">50</text>
<text x="366.9" y="739.6" text-anchor="middle">100</text>
<text x="489.2" y="739.6" text-anchor="middle">150</text>
<text x="611.5" y="739.6" text-anchor="middle">200</text>
<text x="733.8" y="739.6" text-anchor="middle">250</text>
<text x="856.0" y="739.6" text-anchor="middle">300</text>
<text x="978.3" y="739.6" text-anchor="middle">350</text>
<text x="112" y="559.3" text-anchor="end">0</text>
<text x="112" y="628.7" text-anchor="end">-5</text>
<text x="112" y="698.1" text-anchor="end">-10</text>
</g>
<text x="562.0" y="776.2" text-anchor="middle" font-family='"Liberation Serif", serif' font-size="35" fill="#000">time (s)</text>
<text transform="translate(43.9,660.2) rotate(-90)" font-family='"Liberation Serif", serif' font-size="33" fill="#000">f</text>
<text transform="translate(60.2,647.4) rotate(-90)" font-family='"Liberation Serif", serif' font-size="25" fill="#000">z</text>
<text transform="translate(43.9,624.8) rotate(-90)" font-family='"Liberation Serif", serif' font-size="33" fill="#000">(N)</text>
<text x="125.3" y="531.3" font-family='"Liberation Serif", serif' font-size="34.6" fill="#262626">×</text>
<text x="147.6" y="528.0" font-family='"Liberation Serif", serif' font-size="31" fill="#262626">10</text>
<text x="178.4" y="513.5" font-family='"Liberation Serif", serif' font-size="24" fill="#262626">-3</text>
<rect x="711.6" y="35.1" width="275.4" height="104.4" fill="#fff" stroke="#555555" stroke-width="1.3"/>
<path d="M719.3,55.2H781.2" stroke="#0000ff" stroke-width="3.6"/>
<path d="M719.3,87.7H736.4M752.6,87.7H768.9" stroke="#ff0000" stroke-width="3.6"/>
<path d="M719.3,119.7H781.5" stroke="#000" stroke-width="3.8" stroke-dasharray="4 4.3"/>
<g font-family='"Liberation Serif", serif' font-size="27.6" fill="#000">
<text x="786.5" y="66.0">LQG</text>
<text x="786.5" y="98.5">LQR-MSIF</text>
<text x="786.5" y="130.5">SNN-LQR-MSIF</text>
</g>
<rect x="-3" y="391" width="5" height="8" rx="2" fill="#d9d9d9"/>
<rect x="1031" y="391" width="6" height="8" rx="2" fill="#d9d9d9"/>
<rect x="512" y="-4" width="8" height="6" rx="2" fill="#d9d9d9"/>
<rect x="512" y="789" width="8" height="7" rx="2" fill="#d9d9d9"/>
</g>
</svg>
</body></html>
